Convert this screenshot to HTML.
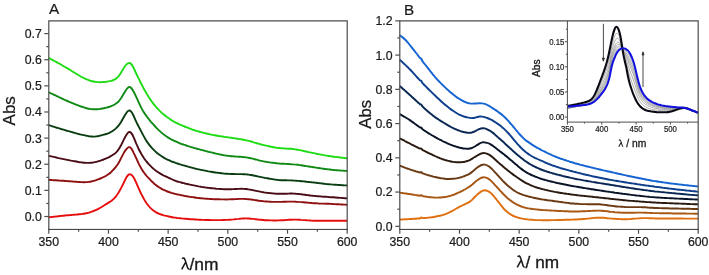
<!DOCTYPE html>
<html><head><meta charset="utf-8"><title>Absorption spectra</title>
<style>
html,body{margin:0;padding:0;background:#fff;}
body{width:709px;height:275px;position:relative;overflow:hidden;font-family:"Liberation Sans",sans-serif;}
</style></head><body>
<svg width="709" height="275" viewBox="0 0 709 275" style="position:absolute;left:0;top:0;will-change:transform">
<rect width="709" height="275" fill="#fff"/>
<g fill="none" stroke-width="1.9" stroke-linejoin="round" stroke-linecap="butt">
<path d="M48.70 58.00C49.1 58.2 50.4 58.8 51.2 59.3C52.0 59.7 52.9 60.1 53.7 60.6C54.5 61.0 55.4 61.5 56.2 61.9C57.0 62.4 57.9 62.9 58.7 63.3C59.5 63.8 60.4 64.3 61.2 64.7C62.0 65.2 62.9 65.7 63.7 66.2C64.5 66.7 65.4 67.2 66.2 67.6C67.0 68.1 67.9 68.6 68.7 69.1C69.5 69.7 70.4 70.2 71.2 70.7C72.0 71.2 72.9 71.7 73.7 72.2C74.5 72.7 75.4 73.3 76.2 73.8C77.0 74.3 77.9 74.8 78.7 75.3C79.5 75.8 80.4 76.2 81.2 76.7C82.0 77.2 82.9 77.6 83.7 78.0C84.5 78.4 85.4 78.8 86.2 79.2C87.0 79.5 87.9 79.9 88.7 80.2C89.5 80.5 90.4 80.7 91.2 81.0C92.0 81.2 92.9 81.4 93.7 81.5C94.5 81.7 95.4 81.8 96.2 81.9C97.0 82.0 97.9 82.1 98.7 82.1C99.5 82.2 100.4 82.2 101.2 82.1C102.0 82.1 102.9 82.1 103.7 82.0C104.5 81.9 105.4 81.9 106.2 81.8C107.0 81.6 107.9 81.5 108.7 81.4C109.5 81.2 110.4 81.0 111.2 80.8C112.0 80.6 112.9 80.3 113.7 80.0C114.5 79.6 115.4 79.2 116.2 78.5C117.0 77.9 117.9 77.1 118.7 76.1C119.5 75.1 120.4 73.6 121.2 72.3C122.0 71.0 122.9 69.4 123.7 68.2C124.5 66.9 125.4 65.5 126.2 64.7C127.0 63.8 127.9 63.2 128.7 63.1C129.5 63.0 130.4 63.2 131.2 64.0C132.0 64.9 132.9 66.4 133.7 68.0C134.5 69.6 135.4 71.7 136.2 73.5C137.0 75.3 137.9 77.0 138.7 78.7C139.5 80.4 140.4 82.0 141.2 83.7C142.0 85.3 142.9 87.0 143.7 88.5C144.5 90.1 145.4 91.5 146.2 92.9C147.0 94.4 147.9 95.7 148.7 97.0C149.5 98.3 150.4 99.5 151.2 100.7C152.0 101.9 152.9 103.0 153.7 104.1C154.5 105.1 155.4 106.1 156.2 107.1C157.0 108.1 157.9 109.0 158.7 109.9C159.5 110.7 160.4 111.5 161.2 112.3C162.0 113.1 162.9 113.8 163.7 114.5C164.5 115.2 165.4 115.8 166.2 116.4C167.0 117.1 167.9 117.7 168.7 118.3C169.5 118.8 170.4 119.4 171.2 119.9C172.0 120.5 172.9 121.0 173.7 121.5C174.5 121.9 175.4 122.4 176.2 122.8C177.0 123.3 177.9 123.7 178.7 124.0C179.5 124.4 180.4 124.8 181.2 125.2C182.0 125.5 182.9 125.9 183.7 126.2C184.5 126.6 185.4 126.9 186.2 127.2C187.0 127.5 187.9 127.9 188.7 128.2C189.5 128.5 190.4 128.8 191.2 129.1C192.0 129.4 192.9 129.7 193.7 130.0C194.5 130.2 195.4 130.5 196.2 130.8C197.0 131.0 197.9 131.3 198.7 131.5C199.5 131.8 200.4 132.0 201.2 132.2C202.0 132.5 202.9 132.7 203.7 132.9C204.5 133.1 205.4 133.3 206.2 133.5C207.0 133.7 207.9 133.9 208.7 134.0C209.5 134.2 210.4 134.4 211.2 134.6C212.0 134.7 212.9 134.9 213.7 135.1C214.5 135.2 215.4 135.4 216.2 135.5C217.0 135.7 217.9 135.8 218.7 136.0C219.5 136.1 220.4 136.2 221.2 136.4C222.0 136.5 222.9 136.6 223.7 136.7C224.5 136.9 225.4 137.0 226.2 137.1C227.0 137.2 227.9 137.3 228.7 137.4C229.5 137.6 230.4 137.7 231.2 137.8C232.0 137.9 232.9 138.0 233.7 138.1C234.5 138.3 235.4 138.4 236.2 138.5C237.0 138.6 237.9 138.8 238.7 138.9C239.5 139.0 240.4 139.2 241.2 139.3C242.0 139.5 242.9 139.6 243.7 139.8C244.5 139.9 245.4 140.1 246.2 140.3C247.0 140.5 247.9 140.7 248.7 140.9C249.5 141.1 250.4 141.3 251.2 141.5C252.0 141.8 252.9 142.0 253.7 142.3C254.5 142.5 255.4 142.8 256.2 143.0C257.0 143.3 257.9 143.5 258.7 143.8C259.5 144.0 260.4 144.2 261.2 144.5C262.0 144.7 262.9 144.9 263.7 145.1C264.5 145.3 265.4 145.5 266.2 145.7C267.0 145.9 267.9 146.1 268.7 146.2C269.5 146.4 270.4 146.6 271.2 146.8C272.0 146.9 272.9 147.1 273.7 147.2C274.5 147.4 275.4 147.5 276.2 147.7C277.0 147.8 277.9 147.9 278.7 148.0C279.5 148.1 280.4 148.2 281.2 148.3C282.0 148.4 282.9 148.4 283.7 148.4C284.5 148.5 285.4 148.5 286.2 148.6C287.0 148.6 287.9 148.6 288.7 148.7C289.5 148.7 290.4 148.8 291.2 148.8C292.0 148.9 292.9 149.0 293.7 149.1C294.5 149.2 295.4 149.3 296.2 149.5C297.0 149.6 297.9 149.7 298.7 149.9C299.5 150.1 300.4 150.2 301.2 150.4C302.0 150.6 302.9 150.8 303.7 151.0C304.5 151.1 305.4 151.3 306.2 151.5C307.0 151.7 307.9 151.9 308.7 152.1C309.5 152.3 310.4 152.4 311.2 152.6C312.0 152.8 312.9 153.0 313.7 153.1C314.5 153.3 315.4 153.5 316.2 153.7C317.0 153.8 317.9 154.0 318.7 154.2C319.5 154.3 320.4 154.5 321.2 154.6C322.0 154.8 322.9 155.0 323.7 155.1C324.5 155.3 325.4 155.4 326.2 155.6C327.0 155.7 327.9 155.8 328.7 156.0C329.5 156.1 330.4 156.2 331.2 156.4C332.0 156.5 332.9 156.6 333.7 156.7C334.5 156.8 335.4 156.9 336.2 157.0C337.0 157.1 337.9 157.2 338.7 157.3C339.5 157.4 340.4 157.5 341.2 157.6C342.0 157.7 342.9 157.8 343.7 157.9C344.5 158.0 345.6 158.1 346.2 158.2C346.8 158.2 347.1 158.3 347.3 158.3" stroke="#1edc14"/>
<path d="M48.70 92.30C49.1 92.5 50.4 93.1 51.2 93.5C52.0 93.9 52.9 94.2 53.7 94.6C54.5 95.0 55.4 95.4 56.2 95.8C57.0 96.2 57.9 96.6 58.7 97.0C59.5 97.4 60.4 97.8 61.2 98.2C62.0 98.6 62.9 99.0 63.7 99.4C64.5 99.7 65.4 100.1 66.2 100.5C67.0 100.8 67.9 101.2 68.7 101.6C69.5 101.9 70.4 102.3 71.2 102.6C72.0 103.0 72.9 103.3 73.7 103.7C74.5 104.0 75.4 104.3 76.2 104.7C77.0 105.0 77.9 105.3 78.7 105.6C79.5 105.9 80.4 106.3 81.2 106.5C82.0 106.8 82.9 107.1 83.7 107.4C84.5 107.7 85.4 107.9 86.2 108.1C87.0 108.4 87.9 108.6 88.7 108.7C89.5 108.9 90.4 109.0 91.2 109.1C92.0 109.2 92.9 109.3 93.7 109.3C94.5 109.3 95.4 109.3 96.2 109.3C97.0 109.2 97.9 109.2 98.7 109.1C99.5 109.0 100.4 108.9 101.2 108.7C102.0 108.6 102.9 108.4 103.7 108.3C104.5 108.1 105.4 107.9 106.2 107.7C107.0 107.5 107.9 107.3 108.7 107.0C109.5 106.8 110.4 106.5 111.2 106.1C112.0 105.8 112.9 105.5 113.7 105.0C114.5 104.6 115.4 104.1 116.2 103.4C117.0 102.8 117.9 102.2 118.7 101.3C119.5 100.4 120.4 99.2 121.2 98.0C122.0 96.7 122.9 95.2 123.7 93.8C124.5 92.4 125.4 90.8 126.2 89.7C127.0 88.6 127.9 87.5 128.7 87.2C129.5 86.9 130.4 87.2 131.2 88.0C132.0 88.8 132.9 90.3 133.7 91.7C134.5 93.2 135.4 95.0 136.2 96.8C137.0 98.5 137.9 100.4 138.7 102.3C139.5 104.1 140.4 106.1 141.2 107.7C142.0 109.3 142.9 110.8 143.7 112.1C144.5 113.4 145.4 114.6 146.2 115.7C147.0 116.9 147.9 118.0 148.7 119.0C149.5 120.1 150.4 121.1 151.2 122.1C152.0 123.1 152.9 124.0 153.7 124.9C154.5 125.8 155.4 126.7 156.2 127.6C157.0 128.4 157.9 129.3 158.7 130.1C159.5 130.8 160.4 131.6 161.2 132.4C162.0 133.1 162.9 133.8 163.7 134.4C164.5 135.1 165.4 135.7 166.2 136.3C167.0 136.8 167.9 137.4 168.7 137.9C169.5 138.4 170.4 138.8 171.2 139.3C172.0 139.7 172.9 140.2 173.7 140.6C174.5 141.0 175.4 141.4 176.2 141.7C177.0 142.1 177.9 142.5 178.7 142.8C179.5 143.1 180.4 143.5 181.2 143.8C182.0 144.1 182.9 144.4 183.7 144.7C184.5 144.9 185.4 145.2 186.2 145.5C187.0 145.8 187.9 146.0 188.7 146.3C189.5 146.5 190.4 146.8 191.2 147.1C192.0 147.3 192.9 147.6 193.7 147.8C194.5 148.1 195.4 148.3 196.2 148.5C197.0 148.8 197.9 149.0 198.7 149.2C199.5 149.5 200.4 149.7 201.2 149.9C202.0 150.1 202.9 150.3 203.7 150.5C204.5 150.7 205.4 150.9 206.2 151.2C207.0 151.4 207.9 151.6 208.7 151.8C209.5 152.0 210.4 152.2 211.2 152.4C212.0 152.6 212.9 152.8 213.7 153.0C214.5 153.2 215.4 153.4 216.2 153.6C217.0 153.8 217.9 154.0 218.7 154.2C219.5 154.4 220.4 154.5 221.2 154.7C222.0 154.9 222.9 155.0 223.7 155.2C224.5 155.3 225.4 155.5 226.2 155.6C227.0 155.7 227.9 155.8 228.7 155.9C229.5 156.0 230.4 156.1 231.2 156.2C232.0 156.3 232.9 156.3 233.7 156.4C234.5 156.5 235.4 156.5 236.2 156.6C237.0 156.6 237.9 156.7 238.7 156.7C239.5 156.8 240.4 156.8 241.2 156.9C242.0 157.0 242.9 157.0 243.7 157.1C244.5 157.2 245.4 157.3 246.2 157.4C247.0 157.5 247.9 157.7 248.7 157.8C249.5 158.0 250.4 158.1 251.2 158.3C252.0 158.5 252.9 158.7 253.7 158.9C254.5 159.1 255.4 159.4 256.2 159.6C257.0 159.8 257.9 160.0 258.7 160.3C259.5 160.5 260.4 160.7 261.2 160.9C262.0 161.1 262.9 161.2 263.7 161.4C264.5 161.6 265.4 161.7 266.2 161.8C267.0 162.0 267.9 162.1 268.7 162.2C269.5 162.4 270.4 162.5 271.2 162.6C272.0 162.7 272.9 162.8 273.7 162.9C274.5 163.0 275.4 163.1 276.2 163.2C277.0 163.3 277.9 163.4 278.7 163.5C279.5 163.6 280.4 163.6 281.2 163.7C282.0 163.7 282.9 163.8 283.7 163.8C284.5 163.9 285.4 163.9 286.2 163.9C287.0 163.9 287.9 164.0 288.7 164.0C289.5 164.1 290.4 164.1 291.2 164.2C292.0 164.2 292.9 164.3 293.7 164.4C294.5 164.4 295.4 164.5 296.2 164.6C297.0 164.7 297.9 164.8 298.7 164.9C299.5 165.1 300.4 165.2 301.2 165.3C302.0 165.4 302.9 165.6 303.7 165.7C304.5 165.8 305.4 165.9 306.2 166.1C307.0 166.2 307.9 166.3 308.7 166.5C309.5 166.6 310.4 166.7 311.2 166.9C312.0 167.0 312.9 167.1 313.7 167.2C314.5 167.4 315.4 167.5 316.2 167.6C317.0 167.8 317.9 167.9 318.7 168.0C319.5 168.1 320.4 168.3 321.2 168.4C322.0 168.5 322.9 168.7 323.7 168.8C324.5 168.9 325.4 169.0 326.2 169.1C327.0 169.2 327.9 169.3 328.7 169.4C329.5 169.5 330.4 169.6 331.2 169.7C332.0 169.8 332.9 169.9 333.7 170.0C334.5 170.1 335.4 170.1 336.2 170.2C337.0 170.3 337.9 170.3 338.7 170.4C339.5 170.5 340.4 170.5 341.2 170.6C342.0 170.6 342.9 170.7 343.7 170.7C344.5 170.8 345.6 170.9 346.2 170.9C346.8 170.9 347.1 171.0 347.3 171.0" stroke="#0f8a14"/>
<path d="M48.70 125.20C49.1 125.3 50.4 125.7 51.2 125.9C52.0 126.2 52.9 126.4 53.7 126.7C54.5 127.0 55.4 127.2 56.2 127.5C57.0 127.7 57.9 128.0 58.7 128.2C59.5 128.5 60.4 128.7 61.2 129.0C62.0 129.2 62.9 129.5 63.7 129.7C64.5 130.0 65.4 130.2 66.2 130.5C67.0 130.7 67.9 131.0 68.7 131.2C69.5 131.5 70.4 131.7 71.2 131.9C72.0 132.2 72.9 132.4 73.7 132.6C74.5 132.9 75.4 133.1 76.2 133.3C77.0 133.5 77.9 133.8 78.7 134.0C79.5 134.2 80.4 134.4 81.2 134.6C82.0 134.8 82.9 135.0 83.7 135.2C84.5 135.4 85.4 135.6 86.2 135.7C87.0 135.9 87.9 136.1 88.7 136.2C89.5 136.3 90.4 136.4 91.2 136.5C92.0 136.6 92.9 136.6 93.7 136.6C94.5 136.6 95.4 136.5 96.2 136.4C97.0 136.3 97.9 136.1 98.7 136.0C99.5 135.8 100.4 135.6 101.2 135.4C102.0 135.2 102.9 135.0 103.7 134.7C104.5 134.5 105.4 134.3 106.2 134.0C107.0 133.7 107.9 133.4 108.7 133.1C109.5 132.7 110.4 132.3 111.2 131.8C112.0 131.4 112.9 130.9 113.7 130.3C114.5 129.7 115.4 129.0 116.2 128.2C117.0 127.4 117.9 126.5 118.7 125.4C119.5 124.4 120.4 123.2 121.2 121.8C122.0 120.5 122.9 118.8 123.7 117.3C124.5 115.9 125.4 114.3 126.2 113.2C127.0 112.1 127.9 110.8 128.7 110.6C129.5 110.3 130.4 110.7 131.2 111.6C132.0 112.5 132.9 114.3 133.7 116.0C134.5 117.7 135.4 119.9 136.2 121.6C137.0 123.4 137.9 125.0 138.7 126.6C139.5 128.2 140.4 129.7 141.2 131.3C142.0 132.9 142.9 134.6 143.7 136.1C144.5 137.7 145.4 139.1 146.2 140.5C147.0 141.8 147.9 143.0 148.7 144.1C149.5 145.2 150.4 146.3 151.2 147.2C152.0 148.2 152.9 149.1 153.7 149.9C154.5 150.7 155.4 151.5 156.2 152.2C157.0 152.9 157.9 153.6 158.7 154.2C159.5 154.9 160.4 155.4 161.2 156.0C162.0 156.6 162.9 157.1 163.7 157.6C164.5 158.1 165.4 158.6 166.2 159.0C167.0 159.5 167.9 159.9 168.7 160.2C169.5 160.6 170.4 161.0 171.2 161.3C172.0 161.6 172.9 161.9 173.7 162.2C174.5 162.5 175.4 162.8 176.2 163.1C177.0 163.4 177.9 163.6 178.7 163.9C179.5 164.2 180.4 164.4 181.2 164.7C182.0 164.9 182.9 165.2 183.7 165.4C184.5 165.7 185.4 165.9 186.2 166.1C187.0 166.4 187.9 166.6 188.7 166.8C189.5 167.1 190.4 167.3 191.2 167.5C192.0 167.7 192.9 167.9 193.7 168.2C194.5 168.4 195.4 168.6 196.2 168.8C197.0 169.0 197.9 169.2 198.7 169.4C199.5 169.6 200.4 169.7 201.2 169.9C202.0 170.1 202.9 170.3 203.7 170.4C204.5 170.6 205.4 170.8 206.2 170.9C207.0 171.1 207.9 171.2 208.7 171.4C209.5 171.5 210.4 171.7 211.2 171.8C212.0 171.9 212.9 172.1 213.7 172.2C214.5 172.3 215.4 172.4 216.2 172.6C217.0 172.7 217.9 172.8 218.7 172.9C219.5 173.0 220.4 173.1 221.2 173.2C222.0 173.3 222.9 173.4 223.7 173.5C224.5 173.5 225.4 173.6 226.2 173.7C227.0 173.8 227.9 173.8 228.7 173.9C229.5 173.9 230.4 173.9 231.2 174.0C232.0 174.0 232.9 174.0 233.7 174.0C234.5 174.1 235.4 174.1 236.2 174.1C237.0 174.1 237.9 174.1 238.7 174.1C239.5 174.1 240.4 174.1 241.2 174.1C242.0 174.2 242.9 174.2 243.7 174.2C244.5 174.3 245.4 174.3 246.2 174.4C247.0 174.5 247.9 174.5 248.7 174.6C249.5 174.8 250.4 174.9 251.2 175.0C252.0 175.2 252.9 175.3 253.7 175.5C254.5 175.7 255.4 175.8 256.2 176.0C257.0 176.2 257.9 176.4 258.7 176.6C259.5 176.8 260.4 177.0 261.2 177.1C262.0 177.3 262.9 177.5 263.7 177.6C264.5 177.8 265.4 177.9 266.2 178.1C267.0 178.2 267.9 178.4 268.7 178.5C269.5 178.7 270.4 178.8 271.2 178.9C272.0 179.1 272.9 179.2 273.7 179.3C274.5 179.5 275.4 179.6 276.2 179.7C277.0 179.8 277.9 179.9 278.7 180.0C279.5 180.0 280.4 180.1 281.2 180.2C282.0 180.2 282.9 180.2 283.7 180.3C284.5 180.3 285.4 180.3 286.2 180.3C287.0 180.3 287.9 180.4 288.7 180.4C289.5 180.4 290.4 180.4 291.2 180.4C292.0 180.5 292.9 180.5 293.7 180.6C294.5 180.6 295.4 180.7 296.2 180.7C297.0 180.8 297.9 180.9 298.7 180.9C299.5 181.0 300.4 181.1 301.2 181.2C302.0 181.3 302.9 181.3 303.7 181.4C304.5 181.5 305.4 181.6 306.2 181.7C307.0 181.8 307.9 181.9 308.7 182.0C309.5 182.1 310.4 182.2 311.2 182.3C312.0 182.4 312.9 182.4 313.7 182.5C314.5 182.6 315.4 182.7 316.2 182.8C317.0 182.9 317.9 183.0 318.7 183.1C319.5 183.2 320.4 183.3 321.2 183.4C322.0 183.5 322.9 183.6 323.7 183.7C324.5 183.8 325.4 183.9 326.2 184.0C327.0 184.0 327.9 184.1 328.7 184.2C329.5 184.3 330.4 184.4 331.2 184.4C332.0 184.5 332.9 184.6 333.7 184.6C334.5 184.7 335.4 184.8 336.2 184.8C337.0 184.9 337.9 184.9 338.7 185.0C339.5 185.0 340.4 185.1 341.2 185.1C342.0 185.2 342.9 185.2 343.7 185.3C344.5 185.3 345.6 185.4 346.2 185.4C346.8 185.5 347.1 185.5 347.3 185.5" stroke="#0a3d12"/>
<path d="M48.70 155.80C49.1 155.9 50.4 156.2 51.2 156.4C52.0 156.6 52.9 156.8 53.7 156.9C54.5 157.1 55.4 157.3 56.2 157.5C57.0 157.7 57.9 157.9 58.7 158.1C59.5 158.2 60.4 158.4 61.2 158.6C62.0 158.8 62.9 158.9 63.7 159.1C64.5 159.3 65.4 159.4 66.2 159.6C67.0 159.8 67.9 159.9 68.7 160.1C69.5 160.3 70.4 160.4 71.2 160.6C72.0 160.7 72.9 160.9 73.7 161.1C74.5 161.2 75.4 161.4 76.2 161.5C77.0 161.7 77.9 161.8 78.7 162.0C79.5 162.1 80.4 162.3 81.2 162.4C82.0 162.5 82.9 162.6 83.7 162.7C84.5 162.8 85.4 162.8 86.2 162.9C87.0 162.9 87.9 162.9 88.7 162.9C89.5 162.9 90.4 162.9 91.2 162.8C92.0 162.7 92.9 162.6 93.7 162.4C94.5 162.3 95.4 162.1 96.2 161.9C97.0 161.7 97.9 161.5 98.7 161.2C99.5 161.0 100.4 160.7 101.2 160.4C102.0 160.1 102.9 159.8 103.7 159.5C104.5 159.1 105.4 158.8 106.2 158.4C107.0 158.1 107.9 157.7 108.7 157.3C109.5 156.8 110.4 156.4 111.2 155.9C112.0 155.4 112.9 154.9 113.7 154.3C114.5 153.7 115.4 153.1 116.2 152.3C117.0 151.4 117.9 150.5 118.7 149.2C119.5 148.0 120.4 146.5 121.2 145.0C122.0 143.4 122.9 141.6 123.7 139.9C124.5 138.3 125.4 136.6 126.2 135.3C127.0 134.0 127.9 132.6 128.7 132.2C129.5 131.8 130.4 132.1 131.2 133.0C132.0 133.8 132.9 135.5 133.7 137.3C134.5 139.0 135.4 141.5 136.2 143.5C137.0 145.4 137.9 147.3 138.7 149.0C139.5 150.7 140.4 152.2 141.2 153.7C142.0 155.1 142.9 156.4 143.7 157.7C144.5 158.9 145.4 160.1 146.2 161.2C147.0 162.2 147.9 163.2 148.7 164.1C149.5 165.0 150.4 165.9 151.2 166.7C152.0 167.5 152.9 168.2 153.7 168.9C154.5 169.6 155.4 170.2 156.2 170.9C157.0 171.5 157.9 172.0 158.7 172.6C159.5 173.1 160.4 173.6 161.2 174.1C162.0 174.6 162.9 175.0 163.7 175.5C164.5 175.9 165.4 176.3 166.2 176.7C167.0 177.1 167.9 177.5 168.7 177.8C169.5 178.2 170.4 178.6 171.2 179.0C172.0 179.4 172.9 179.8 173.7 180.1C174.5 180.4 175.4 180.8 176.2 181.1C177.0 181.4 177.9 181.6 178.7 181.9C179.5 182.1 180.4 182.3 181.2 182.5C182.0 182.8 182.9 183.0 183.7 183.2C184.5 183.4 185.4 183.6 186.2 183.8C187.0 184.0 187.9 184.1 188.7 184.3C189.5 184.5 190.4 184.7 191.2 184.9C192.0 185.1 192.9 185.3 193.7 185.4C194.5 185.6 195.4 185.8 196.2 185.9C197.0 186.1 197.9 186.2 198.7 186.4C199.5 186.5 200.4 186.7 201.2 186.8C202.0 187.0 202.9 187.1 203.7 187.2C204.5 187.3 205.4 187.5 206.2 187.6C207.0 187.7 207.9 187.8 208.7 187.9C209.5 188.0 210.4 188.1 211.2 188.2C212.0 188.3 212.9 188.3 213.7 188.4C214.5 188.5 215.4 188.6 216.2 188.7C217.0 188.7 217.9 188.8 218.7 188.9C219.5 188.9 220.4 189.0 221.2 189.0C222.0 189.1 222.9 189.1 223.7 189.2C224.5 189.2 225.4 189.2 226.2 189.2C227.0 189.3 227.9 189.3 228.7 189.3C229.5 189.3 230.4 189.2 231.2 189.2C232.0 189.2 232.9 189.1 233.7 189.1C234.5 189.1 235.4 189.0 236.2 189.0C237.0 188.9 237.9 188.9 238.7 188.9C239.5 188.8 240.4 188.8 241.2 188.8C242.0 188.8 242.9 188.8 243.7 188.9C244.5 188.9 245.4 189.0 246.2 189.0C247.0 189.1 247.9 189.2 248.7 189.4C249.5 189.5 250.4 189.7 251.2 189.8C252.0 190.0 252.9 190.2 253.7 190.3C254.5 190.5 255.4 190.7 256.2 190.9C257.0 191.1 257.9 191.3 258.7 191.4C259.5 191.6 260.4 191.8 261.2 191.9C262.0 192.1 262.9 192.2 263.7 192.3C264.5 192.5 265.4 192.6 266.2 192.7C267.0 192.8 267.9 192.9 268.7 193.0C269.5 193.1 270.4 193.2 271.2 193.3C272.0 193.4 272.9 193.4 273.7 193.5C274.5 193.6 275.4 193.6 276.2 193.7C277.0 193.7 277.9 193.8 278.7 193.8C279.5 193.8 280.4 193.8 281.2 193.8C282.0 193.8 282.9 193.8 283.7 193.8C284.5 193.8 285.4 193.7 286.2 193.7C287.0 193.6 287.9 193.6 288.7 193.6C289.5 193.6 290.4 193.5 291.2 193.5C292.0 193.5 292.9 193.6 293.7 193.6C294.5 193.6 295.4 193.7 296.2 193.8C297.0 193.8 297.9 193.9 298.7 194.0C299.5 194.1 300.4 194.2 301.2 194.3C302.0 194.4 302.9 194.5 303.7 194.6C304.5 194.7 305.4 194.9 306.2 195.0C307.0 195.1 307.9 195.2 308.7 195.3C309.5 195.4 310.4 195.5 311.2 195.6C312.0 195.7 312.9 195.8 313.7 195.9C314.5 196.0 315.4 196.0 316.2 196.1C317.0 196.2 317.9 196.3 318.7 196.3C319.5 196.4 320.4 196.4 321.2 196.5C322.0 196.6 322.9 196.6 323.7 196.7C324.5 196.7 325.4 196.8 326.2 196.8C327.0 196.9 327.9 196.9 328.7 197.0C329.5 197.0 330.4 197.1 331.2 197.2C332.0 197.2 332.9 197.3 333.7 197.3C334.5 197.4 335.4 197.5 336.2 197.5C337.0 197.6 337.9 197.7 338.7 197.7C339.5 197.8 340.4 197.9 341.2 197.9C342.0 198.0 342.9 198.0 343.7 198.1C344.5 198.2 345.6 198.2 346.2 198.3C346.8 198.3 347.1 198.4 347.3 198.4" stroke="#4a0d16"/>
<path d="M48.70 179.80C49.1 179.8 50.4 179.9 51.2 180.0C52.0 180.1 52.9 180.1 53.7 180.2C54.5 180.2 55.4 180.3 56.2 180.3C57.0 180.4 57.9 180.5 58.7 180.5C59.5 180.6 60.4 180.6 61.2 180.7C62.0 180.7 62.9 180.8 63.7 180.8C64.5 180.9 65.4 181.0 66.2 181.0C67.0 181.1 67.9 181.1 68.7 181.2C69.5 181.3 70.4 181.3 71.2 181.4C72.0 181.5 72.9 181.5 73.7 181.6C74.5 181.7 75.4 181.8 76.2 181.8C77.0 181.9 77.9 181.9 78.7 182.0C79.5 182.1 80.4 182.1 81.2 182.1C82.0 182.2 82.9 182.2 83.7 182.2C84.5 182.2 85.4 182.2 86.2 182.1C87.0 182.1 87.9 182.0 88.7 181.9C89.5 181.8 90.4 181.7 91.2 181.5C92.0 181.3 92.9 181.1 93.7 180.9C94.5 180.7 95.4 180.4 96.2 180.1C97.0 179.8 97.9 179.5 98.7 179.2C99.5 178.9 100.4 178.6 101.2 178.2C102.0 177.8 102.9 177.4 103.7 177.0C104.5 176.6 105.4 176.2 106.2 175.7C107.0 175.2 107.9 174.7 108.7 174.1C109.5 173.5 110.4 172.7 111.2 172.0C112.0 171.2 112.9 170.3 113.7 169.4C114.5 168.5 115.4 167.5 116.2 166.4C117.0 165.3 117.9 164.3 118.7 162.8C119.5 161.4 120.4 159.6 121.2 157.9C122.0 156.3 122.9 154.5 123.7 153.1C124.5 151.7 125.4 150.4 126.2 149.4C127.0 148.5 127.9 147.4 128.7 147.2C129.5 147.0 130.4 147.4 131.2 148.3C132.0 149.3 132.9 151.1 133.7 152.8C134.5 154.4 135.4 156.4 136.2 158.2C137.0 160.0 137.9 162.0 138.7 163.7C139.5 165.3 140.4 166.8 141.2 168.3C142.0 169.7 142.9 171.0 143.7 172.2C144.5 173.4 145.4 174.5 146.2 175.5C147.0 176.5 147.9 177.3 148.7 178.2C149.5 179.1 150.4 180.0 151.2 180.8C152.0 181.7 152.9 182.4 153.7 183.2C154.5 183.9 155.4 184.6 156.2 185.2C157.0 185.9 157.9 186.5 158.7 187.0C159.5 187.6 160.4 188.1 161.2 188.6C162.0 189.1 162.9 189.5 163.7 189.9C164.5 190.3 165.4 190.6 166.2 191.0C167.0 191.3 167.9 191.7 168.7 192.0C169.5 192.2 170.4 192.5 171.2 192.8C172.0 193.0 172.9 193.3 173.7 193.5C174.5 193.7 175.4 193.9 176.2 194.1C177.0 194.4 177.9 194.5 178.7 194.7C179.5 194.9 180.4 195.1 181.2 195.2C182.0 195.4 182.9 195.6 183.7 195.7C184.5 195.9 185.4 196.0 186.2 196.2C187.0 196.3 187.9 196.4 188.7 196.6C189.5 196.7 190.4 196.8 191.2 197.0C192.0 197.1 192.9 197.2 193.7 197.3C194.5 197.4 195.4 197.6 196.2 197.7C197.0 197.8 197.9 197.9 198.7 198.0C199.5 198.1 200.4 198.2 201.2 198.2C202.0 198.3 202.9 198.4 203.7 198.5C204.5 198.6 205.4 198.6 206.2 198.7C207.0 198.8 207.9 198.8 208.7 198.9C209.5 198.9 210.4 199.0 211.2 199.0C212.0 199.1 212.9 199.1 213.7 199.2C214.5 199.2 215.4 199.2 216.2 199.3C217.0 199.3 217.9 199.3 218.7 199.3C219.5 199.4 220.4 199.4 221.2 199.4C222.0 199.4 222.9 199.4 223.7 199.4C224.5 199.5 225.4 199.5 226.2 199.5C227.0 199.4 227.9 199.4 228.7 199.4C229.5 199.4 230.4 199.4 231.2 199.3C232.0 199.3 232.9 199.2 233.7 199.2C234.5 199.2 235.4 199.1 236.2 199.1C237.0 199.0 237.9 199.0 238.7 198.9C239.5 198.9 240.4 198.9 241.2 198.9C242.0 198.9 242.9 198.9 243.7 198.9C244.5 198.9 245.4 198.9 246.2 199.0C247.0 199.0 247.9 199.1 248.7 199.2C249.5 199.3 250.4 199.4 251.2 199.5C252.0 199.6 252.9 199.8 253.7 199.9C254.5 200.0 255.4 200.2 256.2 200.3C257.0 200.4 257.9 200.6 258.7 200.7C259.5 200.8 260.4 200.9 261.2 201.0C262.0 201.1 262.9 201.2 263.7 201.3C264.5 201.3 265.4 201.4 266.2 201.5C267.0 201.5 267.9 201.6 268.7 201.6C269.5 201.7 270.4 201.7 271.2 201.8C272.0 201.8 272.9 201.8 273.7 201.9C274.5 201.9 275.4 201.9 276.2 201.9C277.0 201.9 277.9 201.9 278.7 201.9C279.5 201.9 280.4 201.9 281.2 201.9C282.0 201.9 282.9 201.9 283.7 201.8C284.5 201.8 285.4 201.8 286.2 201.7C287.0 201.7 287.9 201.6 288.7 201.6C289.5 201.6 290.4 201.6 291.2 201.6C292.0 201.6 292.9 201.6 293.7 201.6C294.5 201.6 295.4 201.6 296.2 201.7C297.0 201.7 297.9 201.8 298.7 201.9C299.5 201.9 300.4 202.0 301.2 202.1C302.0 202.1 302.9 202.2 303.7 202.3C304.5 202.4 305.4 202.5 306.2 202.5C307.0 202.6 307.9 202.7 308.7 202.8C309.5 202.9 310.4 202.9 311.2 203.0C312.0 203.1 312.9 203.1 313.7 203.2C314.5 203.2 315.4 203.3 316.2 203.3C317.0 203.4 317.9 203.4 318.7 203.5C319.5 203.5 320.4 203.5 321.2 203.6C322.0 203.6 322.9 203.6 323.7 203.6C324.5 203.7 325.4 203.7 326.2 203.7C327.0 203.8 327.9 203.8 328.7 203.8C329.5 203.9 330.4 203.9 331.2 203.9C332.0 204.0 332.9 204.0 333.7 204.1C334.5 204.1 335.4 204.2 336.2 204.2C337.0 204.2 337.9 204.3 338.7 204.3C339.5 204.4 340.4 204.4 341.2 204.5C342.0 204.5 342.9 204.6 343.7 204.6C344.5 204.6 345.6 204.7 346.2 204.7C346.8 204.8 347.1 204.8 347.3 204.8" stroke="#8f1010"/>
<path d="M48.70 217.30C49.1 217.3 50.4 217.1 51.2 217.0C52.0 216.9 52.9 216.8 53.7 216.7C54.5 216.6 55.4 216.6 56.2 216.5C57.0 216.4 57.9 216.3 58.7 216.2C59.5 216.1 60.4 216.0 61.2 215.9C62.0 215.8 62.9 215.8 63.7 215.7C64.5 215.6 65.4 215.5 66.2 215.4C67.0 215.3 67.9 215.3 68.7 215.2C69.5 215.1 70.4 215.1 71.2 215.0C72.0 214.9 72.9 214.9 73.7 214.8C74.5 214.7 75.4 214.6 76.2 214.6C77.0 214.5 77.9 214.4 78.7 214.3C79.5 214.3 80.4 214.2 81.2 214.1C82.0 214.0 82.9 213.8 83.7 213.7C84.5 213.6 85.4 213.4 86.2 213.3C87.0 213.1 87.9 212.9 88.7 212.7C89.5 212.4 90.4 212.2 91.2 211.9C92.0 211.6 92.9 211.3 93.7 211.0C94.5 210.7 95.4 210.3 96.2 209.9C97.0 209.5 97.9 209.1 98.7 208.6C99.5 208.2 100.4 207.7 101.2 207.2C102.0 206.7 102.9 206.2 103.7 205.7C104.5 205.2 105.4 204.7 106.2 204.1C107.0 203.6 107.9 203.1 108.7 202.6C109.5 202.1 110.4 201.6 111.2 201.0C112.0 200.3 112.9 199.7 113.7 198.9C114.5 198.1 115.4 197.2 116.2 196.1C117.0 195.0 117.9 193.8 118.7 192.4C119.5 191.0 120.4 189.5 121.2 187.9C122.0 186.3 122.9 184.5 123.7 182.8C124.5 181.1 125.4 179.0 126.2 177.7C127.0 176.3 127.9 175.1 128.7 174.6C129.5 174.1 130.4 174.3 131.2 174.7C132.0 175.2 132.9 176.1 133.7 177.4C134.5 178.7 135.4 180.8 136.2 182.7C137.0 184.5 137.9 186.5 138.7 188.4C139.5 190.2 140.4 192.1 141.2 193.8C142.0 195.5 142.9 197.1 143.7 198.6C144.5 200.1 145.4 201.4 146.2 202.7C147.0 203.9 147.9 205.0 148.7 206.0C149.5 207.0 150.4 207.9 151.2 208.7C152.0 209.5 152.9 210.2 153.7 210.8C154.5 211.4 155.4 211.9 156.2 212.4C157.0 212.9 157.9 213.3 158.7 213.6C159.5 214.0 160.4 214.3 161.2 214.5C162.0 214.8 162.9 215.0 163.7 215.3C164.5 215.5 165.4 215.7 166.2 215.9C167.0 216.1 167.9 216.3 168.7 216.5C169.5 216.7 170.4 216.9 171.2 217.0C172.0 217.2 172.9 217.3 173.7 217.5C174.5 217.6 175.4 217.7 176.2 217.8C177.0 218.0 177.9 218.1 178.7 218.1C179.5 218.2 180.4 218.3 181.2 218.4C182.0 218.5 182.9 218.6 183.7 218.6C184.5 218.7 185.4 218.8 186.2 218.8C187.0 218.9 187.9 219.0 188.7 219.0C189.5 219.1 190.4 219.2 191.2 219.2C192.0 219.3 192.9 219.3 193.7 219.4C194.5 219.4 195.4 219.5 196.2 219.5C197.0 219.6 197.9 219.6 198.7 219.7C199.5 219.7 200.4 219.7 201.2 219.8C202.0 219.8 202.9 219.8 203.7 219.9C204.5 219.9 205.4 219.9 206.2 220.0C207.0 220.0 207.9 220.0 208.7 220.0C209.5 220.0 210.4 220.1 211.2 220.1C212.0 220.1 212.9 220.1 213.7 220.1C214.5 220.1 215.4 220.1 216.2 220.1C217.0 220.1 217.9 220.1 218.7 220.1C219.5 220.1 220.4 220.1 221.2 220.1C222.0 220.1 222.9 220.0 223.7 220.0C224.5 220.0 225.4 220.0 226.2 219.9C227.0 219.9 227.9 219.8 228.7 219.8C229.5 219.7 230.4 219.7 231.2 219.6C232.0 219.5 232.9 219.4 233.7 219.4C234.5 219.3 235.4 219.2 236.2 219.1C237.0 219.0 237.9 218.9 238.7 218.9C239.5 218.8 240.4 218.7 241.2 218.6C242.0 218.6 242.9 218.5 243.7 218.5C244.5 218.4 245.4 218.4 246.2 218.4C247.0 218.4 247.9 218.5 248.7 218.5C249.5 218.5 250.4 218.6 251.2 218.7C252.0 218.7 252.9 218.8 253.7 218.9C254.5 219.0 255.4 219.1 256.2 219.3C257.0 219.4 257.9 219.5 258.7 219.6C259.5 219.7 260.4 219.8 261.2 219.8C262.0 219.9 262.9 220.0 263.7 220.0C264.5 220.1 265.4 220.2 266.2 220.2C267.0 220.2 267.9 220.3 268.7 220.3C269.5 220.3 270.4 220.4 271.2 220.4C272.0 220.4 272.9 220.4 273.7 220.5C274.5 220.5 275.4 220.5 276.2 220.5C277.0 220.5 277.9 220.5 278.7 220.4C279.5 220.4 280.4 220.4 281.2 220.3C282.0 220.3 282.9 220.2 283.7 220.2C284.5 220.1 285.4 220.1 286.2 220.0C287.0 219.9 287.9 219.9 288.7 219.8C289.5 219.7 290.4 219.7 291.2 219.7C292.0 219.6 292.9 219.6 293.7 219.6C294.5 219.6 295.4 219.6 296.2 219.6C297.0 219.7 297.9 219.7 298.7 219.7C299.5 219.8 300.4 219.8 301.2 219.9C302.0 219.9 302.9 220.0 303.7 220.1C304.5 220.1 305.4 220.2 306.2 220.2C307.0 220.3 307.9 220.4 308.7 220.4C309.5 220.5 310.4 220.5 311.2 220.6C312.0 220.6 312.9 220.6 313.7 220.7C314.5 220.7 315.4 220.7 316.2 220.7C317.0 220.7 317.9 220.8 318.7 220.8C319.5 220.8 320.4 220.8 321.2 220.8C322.0 220.8 322.9 220.8 323.7 220.8C324.5 220.7 325.4 220.7 326.2 220.7C327.0 220.7 327.9 220.7 328.7 220.7C329.5 220.7 330.4 220.7 331.2 220.7C332.0 220.7 332.9 220.7 333.7 220.7C334.5 220.7 335.4 220.7 336.2 220.7C337.0 220.7 337.9 220.7 338.7 220.7C339.5 220.7 340.4 220.7 341.2 220.7C342.0 220.7 342.9 220.7 343.7 220.7C344.5 220.7 345.6 220.7 346.2 220.7C346.8 220.7 347.1 220.7 347.3 220.7" stroke="#e60d0d"/>
</g>
<g stroke="#4d4d4d" stroke-width="1.2" fill="none">
<path d="M48.80 229.70 V20.80 H347.20 V229.70"/>
<line x1="48.20" y1="229.40" x2="347.80" y2="229.40" stroke="#333" stroke-width="1.0"/>
<line x1="48.80" y1="229.20" x2="48.80" y2="233.70"/>
<line x1="78.64" y1="229.20" x2="78.64" y2="231.70"/>
<line x1="108.48" y1="229.20" x2="108.48" y2="233.70"/>
<line x1="138.32" y1="229.20" x2="138.32" y2="231.70"/>
<line x1="168.16" y1="229.20" x2="168.16" y2="233.70"/>
<line x1="198.00" y1="229.20" x2="198.00" y2="231.70"/>
<line x1="227.84" y1="229.20" x2="227.84" y2="233.70"/>
<line x1="257.68" y1="229.20" x2="257.68" y2="231.70"/>
<line x1="287.52" y1="229.20" x2="287.52" y2="233.70"/>
<line x1="317.36" y1="229.20" x2="317.36" y2="231.70"/>
<line x1="347.20" y1="229.20" x2="347.20" y2="233.70"/>
<line x1="48.80" y1="216.50" x2="44.30" y2="216.50"/>
<line x1="48.80" y1="203.44" x2="46.30" y2="203.44"/>
<line x1="48.80" y1="190.37" x2="44.30" y2="190.37"/>
<line x1="48.80" y1="177.31" x2="46.30" y2="177.31"/>
<line x1="48.80" y1="164.24" x2="44.30" y2="164.24"/>
<line x1="48.80" y1="151.18" x2="46.30" y2="151.18"/>
<line x1="48.80" y1="138.11" x2="44.30" y2="138.11"/>
<line x1="48.80" y1="125.04" x2="46.30" y2="125.04"/>
<line x1="48.80" y1="111.98" x2="44.30" y2="111.98"/>
<line x1="48.80" y1="98.91" x2="46.30" y2="98.91"/>
<line x1="48.80" y1="85.85" x2="44.30" y2="85.85"/>
<line x1="48.80" y1="72.78" x2="46.30" y2="72.78"/>
<line x1="48.80" y1="59.72" x2="44.30" y2="59.72"/>
<line x1="48.80" y1="46.65" x2="46.30" y2="46.65"/>
<line x1="48.80" y1="33.59" x2="44.30" y2="33.59"/>
</g>
<g font-family="Liberation Sans, sans-serif" fill="#1a1a1a" stroke="#1a1a1a" stroke-width="0.22" style="filter:grayscale(1)">
<text x="48.80" y="246.2" font-size="12.3" text-anchor="middle">350</text>
<text x="108.48" y="246.2" font-size="12.3" text-anchor="middle">400</text>
<text x="168.16" y="246.2" font-size="12.3" text-anchor="middle">450</text>
<text x="227.84" y="246.2" font-size="12.3" text-anchor="middle">500</text>
<text x="287.52" y="246.2" font-size="12.3" text-anchor="middle">550</text>
<text x="347.20" y="246.2" font-size="12.3" text-anchor="middle">600</text>
<text x="41.9" y="220.90" font-size="12.3" text-anchor="end">0.0</text>
<text x="41.9" y="194.77" font-size="12.3" text-anchor="end">0.1</text>
<text x="41.9" y="168.64" font-size="12.3" text-anchor="end">0.2</text>
<text x="41.9" y="142.51" font-size="12.3" text-anchor="end">0.3</text>
<text x="41.9" y="116.38" font-size="12.3" text-anchor="end">0.4</text>
<text x="41.9" y="90.25" font-size="12.3" text-anchor="end">0.5</text>
<text x="41.9" y="64.12" font-size="12.3" text-anchor="end">0.6</text>
<text x="41.9" y="37.99" font-size="12.3" text-anchor="end">0.7</text>
<text x="49.1" y="14.3" font-size="15.3">A</text>
<path transform="translate(181.60,269.50) scale(17.400)" d="M0.035 -0.610Q0.075 -0.680 0.130 -0.660Q0.175 -0.636 0.212 -0.512L0.345 -0.099Q0.372 -0.014 0.440 -0.028M0.218 -0.395L0.006 -0.004" fill="none" stroke="#1a1a1a" stroke-width="0.088" stroke-linejoin="round"/>
<text x="189.5" y="269.5" font-size="17.4" stroke-width="0.35">/nm</text>
<text transform="translate(14.7,110.8) rotate(-90)" font-size="17" text-anchor="middle">Abs</text>
</g>
<g fill="none" stroke-width="1.95" stroke-linejoin="round">
<path d="M399.80 35.20C400.2 35.5 401.5 36.4 402.3 37.1C403.1 37.7 404.0 38.5 404.8 39.3C405.6 40.1 406.5 41.0 407.3 42.0C408.1 42.9 409.0 43.9 409.8 45.0C410.6 46.0 411.5 47.1 412.3 48.1C413.1 49.2 414.0 50.2 414.8 51.3C415.6 52.4 416.6 53.6 417.3 54.5C418.1 55.5 418.9 56.6 419.3 57.1C419.7 57.7 419.6 57.6 419.8 57.7C420.0 57.9 420.1 58.1 420.3 58.2C420.5 58.3 420.6 58.3 420.8 58.4C421.0 58.5 421.1 58.6 421.3 58.8C421.5 59.1 421.6 59.5 421.8 59.9C422.0 60.2 422.1 60.6 422.3 60.9C422.5 61.2 422.6 61.4 422.8 61.6C423.0 61.8 423.0 61.8 423.3 62.3C423.6 62.7 424.1 63.3 424.8 64.2C425.5 65.0 426.5 66.3 427.3 67.4C428.1 68.4 429.0 69.5 429.8 70.6C430.6 71.6 431.5 72.7 432.3 73.7C433.1 74.8 434.0 75.8 434.8 76.8C435.6 77.7 436.5 78.7 437.3 79.6C438.1 80.5 439.0 81.4 439.8 82.2C440.6 83.1 441.5 83.9 442.3 84.7C443.1 85.5 444.0 86.3 444.8 87.1C445.6 87.9 446.5 88.7 447.3 89.4C448.1 90.2 449.0 90.9 449.8 91.7C450.6 92.4 451.5 93.1 452.3 93.8C453.1 94.5 454.0 95.1 454.8 95.8C455.6 96.4 456.5 97.0 457.3 97.6C458.1 98.2 459.0 98.7 459.8 99.2C460.6 99.7 461.5 100.2 462.3 100.6C463.1 101.1 464.0 101.5 464.8 101.8C465.6 102.2 466.5 102.5 467.3 102.8C468.1 103.1 469.0 103.3 469.8 103.4C470.6 103.6 471.5 103.6 472.3 103.6C473.1 103.6 474.0 103.6 474.8 103.5C475.6 103.5 476.5 103.4 477.3 103.4C478.1 103.3 479.0 103.2 479.8 103.2C480.6 103.2 481.5 103.2 482.3 103.4C483.1 103.5 484.0 103.7 484.8 103.9C485.6 104.2 486.5 104.6 487.3 105.0C488.1 105.4 489.0 105.8 489.8 106.3C490.6 106.8 491.5 107.3 492.3 107.9C493.1 108.4 494.0 108.9 494.8 109.5C495.6 110.1 496.5 110.7 497.3 111.3C498.1 111.9 499.0 112.5 499.8 113.1C500.6 113.7 501.5 114.4 502.3 115.1C503.1 115.8 504.0 116.5 504.8 117.3C505.6 118.1 506.5 119.0 507.3 119.8C508.1 120.7 509.0 121.7 509.8 122.6C510.6 123.6 511.5 124.5 512.3 125.5C513.1 126.5 514.0 127.5 514.8 128.5C515.6 129.5 516.5 130.6 517.3 131.5C518.1 132.5 519.0 133.6 519.8 134.5C520.6 135.4 521.5 136.3 522.3 137.1C523.1 138.0 524.0 138.7 524.8 139.4C525.6 140.1 526.5 140.8 527.3 141.4C528.1 142.0 529.0 142.6 529.8 143.1C530.6 143.7 531.5 144.3 532.3 144.8C533.1 145.3 534.0 145.8 534.8 146.3C535.6 146.8 536.5 147.3 537.3 147.8C538.1 148.2 539.0 148.7 539.8 149.1C540.6 149.6 541.5 150.0 542.3 150.5C543.1 150.9 544.0 151.3 544.8 151.7C545.6 152.2 546.5 152.6 547.3 153.0C548.1 153.4 549.0 153.8 549.8 154.2C550.6 154.5 551.5 154.9 552.3 155.3C553.1 155.6 554.0 156.0 554.8 156.3C555.6 156.7 556.5 157.0 557.3 157.3C558.1 157.7 559.0 158.0 559.8 158.3C560.6 158.6 561.5 158.9 562.3 159.2C563.1 159.5 564.0 159.8 564.8 160.0C565.6 160.3 566.5 160.6 567.3 160.9C568.1 161.1 569.0 161.4 569.8 161.7C570.6 161.9 571.5 162.2 572.3 162.4C573.1 162.7 574.0 162.9 574.8 163.2C575.6 163.4 576.5 163.7 577.3 163.9C578.1 164.1 579.0 164.3 579.8 164.6C580.6 164.8 581.5 165.0 582.3 165.2C583.1 165.5 584.0 165.7 584.8 165.9C585.6 166.1 586.5 166.3 587.3 166.5C588.1 166.7 589.0 166.9 589.8 167.1C590.6 167.3 591.5 167.5 592.3 167.7C593.1 168.0 594.0 168.1 594.8 168.3C595.6 168.5 596.5 168.7 597.3 168.9C598.1 169.1 599.0 169.3 599.8 169.5C600.6 169.7 601.5 169.9 602.3 170.1C603.1 170.3 604.0 170.4 604.8 170.6C605.6 170.8 606.5 171.0 607.3 171.2C608.1 171.4 609.0 171.6 609.8 171.8C610.6 172.0 611.5 172.1 612.3 172.3C613.1 172.5 614.0 172.7 614.8 172.9C615.6 173.1 616.5 173.3 617.3 173.5C618.1 173.7 619.0 173.8 619.8 174.0C620.6 174.2 621.5 174.4 622.3 174.6C623.1 174.8 624.0 174.9 624.8 175.1C625.6 175.3 626.5 175.5 627.3 175.7C628.1 175.8 629.0 176.0 629.8 176.2C630.6 176.4 631.5 176.6 632.3 176.7C633.1 176.9 634.0 177.1 634.8 177.3C635.6 177.4 636.5 177.6 637.3 177.8C638.1 178.0 639.0 178.1 639.8 178.3C640.6 178.5 641.5 178.7 642.3 178.8C643.1 179.0 644.0 179.2 644.8 179.3C645.6 179.5 646.5 179.6 647.3 179.8C648.1 179.9 649.0 180.1 649.8 180.2C650.6 180.4 651.5 180.5 652.3 180.7C653.1 180.8 654.0 181.0 654.8 181.1C655.6 181.2 656.5 181.4 657.3 181.5C658.1 181.6 659.0 181.7 659.8 181.9C660.6 182.0 661.5 182.1 662.3 182.2C663.1 182.3 664.0 182.5 664.8 182.6C665.6 182.7 666.5 182.8 667.3 182.9C668.1 183.0 669.0 183.1 669.8 183.3C670.6 183.4 671.5 183.5 672.3 183.6C673.1 183.7 674.0 183.8 674.8 183.9C675.6 184.0 676.5 184.1 677.3 184.2C678.1 184.3 679.0 184.4 679.8 184.5C680.6 184.6 681.5 184.7 682.3 184.8C683.1 184.9 684.0 185.0 684.8 185.1C685.6 185.1 686.5 185.2 687.3 185.3C688.1 185.4 689.0 185.5 689.8 185.6C690.6 185.7 691.5 185.8 692.3 185.9C693.1 186.0 694.0 186.0 694.8 186.1C695.6 186.2 696.7 186.3 697.3 186.4C697.9 186.5 698.1 186.5 698.2 186.5" stroke="#1464d2"/>
<path d="M399.80 59.80C400.2 60.2 401.5 61.3 402.3 62.1C403.1 62.9 404.0 63.6 404.8 64.4C405.6 65.2 406.5 66.0 407.3 66.8C408.1 67.6 409.0 68.4 409.8 69.3C410.6 70.1 411.5 71.0 412.3 71.9C413.1 72.8 414.0 73.8 414.8 74.7C415.6 75.6 416.6 76.7 417.3 77.5C418.1 78.3 418.9 79.2 419.3 79.7C419.7 80.1 419.6 80.0 419.8 80.2C420.0 80.3 420.1 80.5 420.3 80.5C420.5 80.6 420.6 80.5 420.8 80.6C421.0 80.7 421.1 80.7 421.3 80.9C421.5 81.1 421.6 81.6 421.8 81.9C422.0 82.2 422.1 82.5 422.3 82.8C422.5 83.0 422.6 83.2 422.8 83.4C423.0 83.6 423.0 83.6 423.3 83.9C423.6 84.3 424.1 84.8 424.8 85.5C425.5 86.1 426.5 87.1 427.3 88.0C428.1 88.8 429.0 89.6 429.8 90.4C430.6 91.3 431.5 92.1 432.3 92.9C433.1 93.7 434.0 94.5 434.8 95.3C435.6 96.1 436.5 96.9 437.3 97.7C438.1 98.5 439.0 99.2 439.8 100.0C440.6 100.8 441.5 101.5 442.3 102.3C443.1 103.0 444.0 103.8 444.8 104.5C445.6 105.2 446.5 105.9 447.3 106.6C448.1 107.3 449.0 107.9 449.8 108.5C450.6 109.2 451.5 109.8 452.3 110.3C453.1 110.9 454.0 111.5 454.8 112.0C455.6 112.5 456.5 113.0 457.3 113.5C458.1 114.0 459.0 114.4 459.8 114.8C460.6 115.2 461.5 115.6 462.3 115.9C463.1 116.3 464.0 116.5 464.8 116.8C465.6 117.0 466.5 117.3 467.3 117.4C468.1 117.6 469.0 117.8 469.8 117.9C470.6 118.0 471.5 118.1 472.3 118.1C473.1 118.0 474.0 117.9 474.8 117.7C475.6 117.5 476.5 117.2 477.3 117.0C478.1 116.8 479.0 116.6 479.8 116.5C480.6 116.4 481.5 116.5 482.3 116.6C483.1 116.7 484.0 116.9 484.8 117.1C485.6 117.4 486.5 117.7 487.3 118.0C488.1 118.3 489.0 118.7 489.8 119.1C490.6 119.5 491.5 119.9 492.3 120.3C493.1 120.8 494.0 121.3 494.8 121.8C495.6 122.3 496.5 122.9 497.3 123.5C498.1 124.1 499.0 124.7 499.8 125.3C500.6 126.0 501.5 126.6 502.3 127.4C503.1 128.1 504.0 128.8 504.8 129.6C505.6 130.4 506.5 131.2 507.3 132.1C508.1 133.0 509.0 133.9 509.8 134.9C510.6 135.8 511.5 136.8 512.3 137.8C513.1 138.8 514.0 139.9 514.8 140.9C515.6 141.8 516.5 142.8 517.3 143.8C518.1 144.7 519.0 145.6 519.8 146.5C520.6 147.4 521.5 148.2 522.3 149.0C523.1 149.8 524.0 150.5 524.8 151.2C525.6 151.9 526.5 152.6 527.3 153.2C528.1 153.8 529.0 154.4 529.8 155.0C530.6 155.5 531.5 156.0 532.3 156.5C533.1 156.9 534.0 157.4 534.8 157.8C535.6 158.2 536.5 158.6 537.3 159.0C538.1 159.4 539.0 159.8 539.8 160.1C540.6 160.5 541.5 160.9 542.3 161.2C543.1 161.6 544.0 162.0 544.8 162.3C545.6 162.7 546.5 163.0 547.3 163.3C548.1 163.7 549.0 164.0 549.8 164.3C550.6 164.7 551.5 165.0 552.3 165.3C553.1 165.6 554.0 165.9 554.8 166.2C555.6 166.5 556.5 166.7 557.3 167.0C558.1 167.3 559.0 167.5 559.8 167.8C560.6 168.1 561.5 168.3 562.3 168.6C563.1 168.8 564.0 169.0 564.8 169.3C565.6 169.5 566.5 169.7 567.3 170.0C568.1 170.2 569.0 170.4 569.8 170.7C570.6 170.9 571.5 171.1 572.3 171.3C573.1 171.5 574.0 171.8 574.8 172.0C575.6 172.2 576.5 172.4 577.3 172.6C578.1 172.8 579.0 173.0 579.8 173.2C580.6 173.5 581.5 173.7 582.3 173.9C583.1 174.1 584.0 174.3 584.8 174.5C585.6 174.7 586.5 174.8 587.3 175.0C588.1 175.2 589.0 175.4 589.8 175.6C590.6 175.8 591.5 176.0 592.3 176.2C593.1 176.3 594.0 176.5 594.8 176.7C595.6 176.9 596.5 177.1 597.3 177.2C598.1 177.4 599.0 177.6 599.8 177.7C600.6 177.9 601.5 178.1 602.3 178.2C603.1 178.4 604.0 178.6 604.8 178.7C605.6 178.9 606.5 179.1 607.3 179.2C608.1 179.4 609.0 179.5 609.8 179.7C610.6 179.8 611.5 180.0 612.3 180.1C613.1 180.3 614.0 180.4 614.8 180.6C615.6 180.7 616.5 180.9 617.3 181.0C618.1 181.1 619.0 181.3 619.8 181.4C620.6 181.6 621.5 181.7 622.3 181.8C623.1 182.0 624.0 182.1 624.8 182.2C625.6 182.4 626.5 182.5 627.3 182.6C628.1 182.8 629.0 182.9 629.8 183.0C630.6 183.2 631.5 183.3 632.3 183.4C633.1 183.5 634.0 183.7 634.8 183.8C635.6 183.9 636.5 184.0 637.3 184.2C638.1 184.3 639.0 184.4 639.8 184.5C640.6 184.7 641.5 184.8 642.3 184.9C643.1 185.0 644.0 185.1 644.8 185.3C645.6 185.4 646.5 185.5 647.3 185.6C648.1 185.7 649.0 185.9 649.8 186.0C650.6 186.1 651.5 186.2 652.3 186.3C653.1 186.4 654.0 186.5 654.8 186.7C655.6 186.8 656.5 186.9 657.3 187.0C658.1 187.1 659.0 187.2 659.8 187.3C660.6 187.4 661.5 187.5 662.3 187.6C663.1 187.8 664.0 187.9 664.8 188.0C665.6 188.1 666.5 188.2 667.3 188.3C668.1 188.4 669.0 188.5 669.8 188.6C670.6 188.7 671.5 188.8 672.3 188.9C673.1 189.0 674.0 189.1 674.8 189.2C675.6 189.3 676.5 189.4 677.3 189.5C678.1 189.6 679.0 189.7 679.8 189.7C680.6 189.8 681.5 189.9 682.3 190.0C683.1 190.1 684.0 190.2 684.8 190.3C685.6 190.4 686.5 190.5 687.3 190.6C688.1 190.6 689.0 190.7 689.8 190.8C690.6 190.9 691.5 191.0 692.3 191.1C693.1 191.2 694.0 191.3 694.8 191.3C695.6 191.4 696.7 191.5 697.3 191.6C697.9 191.7 698.1 191.7 698.2 191.7" stroke="#0d3f8c"/>
<path d="M399.80 86.00C400.2 86.4 401.5 87.5 402.3 88.2C403.1 89.0 404.0 89.7 404.8 90.4C405.6 91.2 406.5 91.9 407.3 92.7C408.1 93.4 409.0 94.2 409.8 94.9C410.6 95.7 411.5 96.4 412.3 97.2C413.1 98.0 414.0 98.7 414.8 99.5C415.6 100.3 416.6 101.1 417.3 101.8C418.1 102.5 418.9 103.2 419.3 103.6C419.7 104.0 419.6 103.9 419.8 104.0C420.0 104.2 420.1 104.3 420.3 104.3C420.5 104.3 420.6 104.3 420.8 104.3C421.0 104.4 421.1 104.4 421.3 104.6C421.5 104.8 421.6 105.1 421.8 105.4C422.0 105.7 422.1 106.0 422.3 106.3C422.5 106.5 422.6 106.6 422.8 106.8C423.0 107.0 423.0 107.0 423.3 107.3C423.6 107.6 424.1 108.1 424.8 108.7C425.5 109.3 426.5 110.2 427.3 110.9C428.1 111.6 429.0 112.4 429.8 113.1C430.6 113.8 431.5 114.4 432.3 115.1C433.1 115.7 434.0 116.4 434.8 117.0C435.6 117.6 436.5 118.1 437.3 118.7C438.1 119.2 439.0 119.8 439.8 120.3C440.6 120.8 441.5 121.3 442.3 121.8C443.1 122.4 444.0 122.9 444.8 123.4C445.6 123.9 446.5 124.4 447.3 124.9C448.1 125.4 449.0 125.9 449.8 126.3C450.6 126.8 451.5 127.2 452.3 127.7C453.1 128.1 454.0 128.5 454.8 128.9C455.6 129.3 456.5 129.6 457.3 130.0C458.1 130.3 459.0 130.6 459.8 130.9C460.6 131.2 461.5 131.5 462.3 131.7C463.1 132.0 464.0 132.2 464.8 132.3C465.6 132.5 466.5 132.7 467.3 132.8C468.1 132.9 469.0 132.9 469.8 132.8C470.6 132.8 471.5 132.6 472.3 132.3C473.1 132.1 474.0 131.7 474.8 131.3C475.6 130.9 476.5 130.4 477.3 130.0C478.1 129.5 479.0 129.1 479.8 128.8C480.6 128.5 481.5 128.3 482.3 128.2C483.1 128.1 484.0 128.2 484.8 128.4C485.6 128.6 486.5 129.0 487.3 129.3C488.1 129.7 489.0 130.2 489.8 130.7C490.6 131.2 491.5 131.8 492.3 132.4C493.1 133.0 494.0 133.7 494.8 134.4C495.6 135.2 496.5 135.9 497.3 136.6C498.1 137.4 499.0 138.1 499.8 138.8C500.6 139.6 501.5 140.3 502.3 141.1C503.1 141.8 504.0 142.6 504.8 143.4C505.6 144.1 506.5 144.9 507.3 145.7C508.1 146.4 509.0 147.2 509.8 148.0C510.6 148.7 511.5 149.5 512.3 150.3C513.1 151.0 514.0 151.8 514.8 152.5C515.6 153.3 516.5 154.0 517.3 154.7C518.1 155.4 519.0 156.1 519.8 156.8C520.6 157.5 521.5 158.2 522.3 158.8C523.1 159.5 524.0 160.1 524.8 160.7C525.6 161.3 526.5 161.9 527.3 162.4C528.1 163.0 529.0 163.5 529.8 164.0C530.6 164.5 531.5 165.0 532.3 165.4C533.1 165.9 534.0 166.3 534.8 166.7C535.6 167.2 536.5 167.6 537.3 167.9C538.1 168.3 539.0 168.7 539.8 169.0C540.6 169.3 541.5 169.7 542.3 170.0C543.1 170.3 544.0 170.6 544.8 170.8C545.6 171.1 546.5 171.4 547.3 171.7C548.1 171.9 549.0 172.2 549.8 172.5C550.6 172.7 551.5 172.9 552.3 173.2C553.1 173.4 554.0 173.7 554.8 173.9C555.6 174.1 556.5 174.4 557.3 174.6C558.1 174.8 559.0 175.0 559.8 175.2C560.6 175.4 561.5 175.6 562.3 175.9C563.1 176.1 564.0 176.3 564.8 176.5C565.6 176.7 566.5 176.8 567.3 177.0C568.1 177.2 569.0 177.4 569.8 177.6C570.6 177.8 571.5 178.0 572.3 178.1C573.1 178.3 574.0 178.5 574.8 178.7C575.6 178.8 576.5 179.0 577.3 179.2C578.1 179.3 579.0 179.5 579.8 179.6C580.6 179.8 581.5 180.0 582.3 180.1C583.1 180.3 584.0 180.4 584.8 180.6C585.6 180.7 586.5 180.9 587.3 181.0C588.1 181.2 589.0 181.3 589.8 181.4C590.6 181.6 591.5 181.7 592.3 181.9C593.1 182.0 594.0 182.2 594.8 182.3C595.6 182.4 596.5 182.6 597.3 182.7C598.1 182.8 599.0 183.0 599.8 183.1C600.6 183.2 601.5 183.3 602.3 183.5C603.1 183.6 604.0 183.7 604.8 183.9C605.6 184.0 606.5 184.1 607.3 184.3C608.1 184.4 609.0 184.5 609.8 184.7C610.6 184.8 611.5 184.9 612.3 185.1C613.1 185.2 614.0 185.4 614.8 185.5C615.6 185.6 616.5 185.8 617.3 185.9C618.1 186.1 619.0 186.2 619.8 186.3C620.6 186.5 621.5 186.6 622.3 186.7C623.1 186.9 624.0 187.0 624.8 187.1C625.6 187.3 626.5 187.4 627.3 187.5C628.1 187.7 629.0 187.8 629.8 187.9C630.6 188.1 631.5 188.2 632.3 188.3C633.1 188.4 634.0 188.6 634.8 188.7C635.6 188.8 636.5 188.9 637.3 189.1C638.1 189.2 639.0 189.3 639.8 189.4C640.6 189.5 641.5 189.7 642.3 189.8C643.1 189.9 644.0 190.0 644.8 190.1C645.6 190.2 646.5 190.3 647.3 190.4C648.1 190.6 649.0 190.7 649.8 190.8C650.6 190.9 651.5 191.0 652.3 191.1C653.1 191.2 654.0 191.3 654.8 191.4C655.6 191.4 656.5 191.5 657.3 191.6C658.1 191.7 659.0 191.8 659.8 191.9C660.6 192.0 661.5 192.1 662.3 192.1C663.1 192.2 664.0 192.3 664.8 192.4C665.6 192.5 666.5 192.6 667.3 192.6C668.1 192.7 669.0 192.8 669.8 192.9C670.6 193.0 671.5 193.0 672.3 193.1C673.1 193.2 674.0 193.3 674.8 193.3C675.6 193.4 676.5 193.5 677.3 193.6C678.1 193.7 679.0 193.7 679.8 193.8C680.6 193.9 681.5 194.0 682.3 194.0C683.1 194.1 684.0 194.2 684.8 194.2C685.6 194.3 686.5 194.4 687.3 194.5C688.1 194.5 689.0 194.6 689.8 194.7C690.6 194.7 691.5 194.8 692.3 194.9C693.1 195.0 694.0 195.0 694.8 195.1C695.6 195.2 696.7 195.3 697.3 195.3C697.9 195.4 698.1 195.4 698.2 195.4" stroke="#0a2855"/>
<path d="M399.80 114.20C400.2 114.4 401.5 115.1 402.3 115.6C403.1 116.1 404.0 116.5 404.8 117.0C405.6 117.5 406.5 118.0 407.3 118.5C408.1 119.0 409.0 119.6 409.8 120.1C410.6 120.7 411.5 121.3 412.3 121.9C413.1 122.5 414.0 123.1 414.8 123.7C415.6 124.3 416.6 125.0 417.3 125.6C418.1 126.1 418.9 126.7 419.3 127.0C419.7 127.3 419.6 127.3 419.8 127.4C420.0 127.4 420.1 127.5 420.3 127.5C420.5 127.5 420.6 127.4 420.8 127.4C421.0 127.4 421.1 127.4 421.3 127.6C421.5 127.7 421.6 128.1 421.8 128.3C422.0 128.5 422.1 128.8 422.3 129.0C422.5 129.2 422.6 129.3 422.8 129.5C423.0 129.6 423.0 129.6 423.3 129.8C423.6 130.0 424.1 130.4 424.8 130.8C425.5 131.2 426.5 131.9 427.3 132.4C428.1 132.9 429.0 133.4 429.8 134.0C430.6 134.5 431.5 135.0 432.3 135.5C433.1 136.0 434.0 136.4 434.8 136.9C435.6 137.4 436.5 137.9 437.3 138.3C438.1 138.8 439.0 139.2 439.8 139.7C440.6 140.1 441.5 140.5 442.3 141.0C443.1 141.4 444.0 141.8 444.8 142.2C445.6 142.6 446.5 143.0 447.3 143.3C448.1 143.7 449.0 144.1 449.8 144.4C450.6 144.7 451.5 145.1 452.3 145.4C453.1 145.7 454.0 146.0 454.8 146.2C455.6 146.5 456.5 146.8 457.3 147.0C458.1 147.3 459.0 147.5 459.8 147.7C460.6 147.9 461.5 148.1 462.3 148.2C463.1 148.4 464.0 148.5 464.8 148.6C465.6 148.7 466.5 148.7 467.3 148.7C468.1 148.7 469.0 148.7 469.8 148.5C470.6 148.4 471.5 148.2 472.3 147.8C473.1 147.5 474.0 146.9 474.8 146.5C475.6 146.0 476.5 145.4 477.3 144.9C478.1 144.4 479.0 143.8 479.8 143.4C480.6 143.0 481.5 142.6 482.3 142.4C483.1 142.2 484.0 142.3 484.8 142.4C485.6 142.4 486.5 142.6 487.3 142.9C488.1 143.1 489.0 143.5 489.8 143.9C490.6 144.3 491.5 144.9 492.3 145.4C493.1 146.0 494.0 146.6 494.8 147.3C495.6 147.9 496.5 148.6 497.3 149.2C498.1 149.9 499.0 150.5 499.8 151.2C500.6 151.8 501.5 152.5 502.3 153.1C503.1 153.8 504.0 154.4 504.8 155.1C505.6 155.7 506.5 156.4 507.3 157.1C508.1 157.8 509.0 158.5 509.8 159.2C510.6 159.9 511.5 160.6 512.3 161.3C513.1 162.1 514.0 162.8 514.8 163.5C515.6 164.2 516.5 164.9 517.3 165.6C518.1 166.3 519.0 167.0 519.8 167.7C520.6 168.3 521.5 169.0 522.3 169.6C523.1 170.2 524.0 170.8 524.8 171.4C525.6 171.9 526.5 172.4 527.3 172.9C528.1 173.4 529.0 173.8 529.8 174.2C530.6 174.7 531.5 175.0 532.3 175.4C533.1 175.8 534.0 176.1 534.8 176.5C535.6 176.8 536.5 177.1 537.3 177.4C538.1 177.7 539.0 178.0 539.8 178.3C540.6 178.6 541.5 178.8 542.3 179.1C543.1 179.3 544.0 179.6 544.8 179.8C545.6 180.1 546.5 180.3 547.3 180.5C548.1 180.7 549.0 181.0 549.8 181.2C550.6 181.4 551.5 181.6 552.3 181.8C553.1 182.0 554.0 182.2 554.8 182.4C555.6 182.6 556.5 182.8 557.3 183.0C558.1 183.1 559.0 183.3 559.8 183.5C560.6 183.7 561.5 183.9 562.3 184.0C563.1 184.2 564.0 184.4 564.8 184.5C565.6 184.7 566.5 184.9 567.3 185.0C568.1 185.2 569.0 185.3 569.8 185.5C570.6 185.6 571.5 185.8 572.3 186.0C573.1 186.1 574.0 186.3 574.8 186.4C575.6 186.5 576.5 186.7 577.3 186.8C578.1 187.0 579.0 187.1 579.8 187.3C580.6 187.4 581.5 187.5 582.3 187.7C583.1 187.8 584.0 187.9 584.8 188.1C585.6 188.2 586.5 188.3 587.3 188.5C588.1 188.6 589.0 188.7 589.8 188.9C590.6 189.0 591.5 189.1 592.3 189.3C593.1 189.4 594.0 189.5 594.8 189.7C595.6 189.8 596.5 189.9 597.3 190.1C598.1 190.2 599.0 190.3 599.8 190.4C600.6 190.6 601.5 190.7 602.3 190.8C603.1 191.0 604.0 191.1 604.8 191.2C605.6 191.3 606.5 191.5 607.3 191.6C608.1 191.7 609.0 191.8 609.8 191.9C610.6 192.1 611.5 192.2 612.3 192.3C613.1 192.4 614.0 192.5 614.8 192.7C615.6 192.8 616.5 192.9 617.3 193.0C618.1 193.1 619.0 193.2 619.8 193.4C620.6 193.5 621.5 193.6 622.3 193.7C623.1 193.8 624.0 193.9 624.8 194.0C625.6 194.1 626.5 194.2 627.3 194.3C628.1 194.4 629.0 194.5 629.8 194.6C630.6 194.7 631.5 194.8 632.3 195.0C633.1 195.1 634.0 195.2 634.8 195.3C635.6 195.4 636.5 195.5 637.3 195.6C638.1 195.6 639.0 195.7 639.8 195.8C640.6 195.9 641.5 196.0 642.3 196.1C643.1 196.2 644.0 196.3 644.8 196.4C645.6 196.5 646.5 196.6 647.3 196.6C648.1 196.7 649.0 196.8 649.8 196.9C650.6 196.9 651.5 197.0 652.3 197.1C653.1 197.1 654.0 197.2 654.8 197.3C655.6 197.3 656.5 197.4 657.3 197.5C658.1 197.5 659.0 197.6 659.8 197.6C660.6 197.7 661.5 197.7 662.3 197.8C663.1 197.8 664.0 197.9 664.8 197.9C665.6 198.0 666.5 198.0 667.3 198.1C668.1 198.1 669.0 198.2 669.8 198.2C670.6 198.3 671.5 198.3 672.3 198.3C673.1 198.4 674.0 198.4 674.8 198.5C675.6 198.5 676.5 198.6 677.3 198.6C678.1 198.6 679.0 198.7 679.8 198.7C680.6 198.8 681.5 198.8 682.3 198.8C683.1 198.9 684.0 198.9 684.8 198.9C685.6 199.0 686.5 199.0 687.3 199.0C688.1 199.1 689.0 199.1 689.8 199.2C690.6 199.2 691.5 199.2 692.3 199.3C693.1 199.3 694.0 199.3 694.8 199.4C695.6 199.4 696.7 199.4 697.3 199.5C697.9 199.5 698.1 199.5 698.2 199.5" stroke="#0a1428"/>
<path d="M399.80 138.40C400.2 138.6 401.5 139.3 402.3 139.7C403.1 140.1 404.0 140.5 404.8 141.0C405.6 141.4 406.5 141.8 407.3 142.3C408.1 142.7 409.0 143.1 409.8 143.5C410.6 144.0 411.5 144.4 412.3 144.8C413.1 145.2 414.0 145.7 414.8 146.1C415.6 146.5 416.6 147.0 417.3 147.3C418.1 147.7 418.9 148.1 419.3 148.3C419.7 148.5 419.6 148.5 419.8 148.6C420.0 148.6 420.1 148.6 420.3 148.6C420.5 148.6 420.6 148.4 420.8 148.4C421.0 148.4 421.1 148.4 421.3 148.5C421.5 148.6 421.6 148.9 421.8 149.1C422.0 149.3 422.1 149.6 422.3 149.7C422.5 149.9 422.6 150.0 422.8 150.1C423.0 150.2 423.0 150.2 423.3 150.4C423.6 150.5 424.1 150.8 424.8 151.1C425.5 151.4 426.5 151.9 427.3 152.3C428.1 152.8 429.0 153.2 429.8 153.6C430.6 154.0 431.5 154.4 432.3 154.8C433.1 155.2 434.0 155.6 434.8 156.0C435.6 156.4 436.5 156.8 437.3 157.1C438.1 157.5 439.0 157.8 439.8 158.2C440.6 158.5 441.5 158.8 442.3 159.1C443.1 159.4 444.0 159.6 444.8 159.9C445.6 160.1 446.5 160.4 447.3 160.6C448.1 160.8 449.0 161.0 449.8 161.2C450.6 161.4 451.5 161.5 452.3 161.7C453.1 161.8 454.0 162.0 454.8 162.1C455.6 162.2 456.5 162.3 457.3 162.3C458.1 162.3 459.0 162.4 459.8 162.3C460.6 162.3 461.5 162.2 462.3 162.1C463.1 162.0 464.0 161.9 464.8 161.7C465.6 161.5 466.5 161.3 467.3 161.0C468.1 160.8 469.0 160.5 469.8 160.1C470.6 159.7 471.5 159.1 472.3 158.6C473.1 158.1 474.0 157.5 474.8 157.0C475.6 156.4 476.5 156.0 477.3 155.5C478.1 155.0 479.0 154.5 479.8 154.1C480.6 153.7 481.5 153.3 482.3 153.2C483.1 153.0 484.0 153.0 484.8 153.1C485.6 153.2 486.5 153.5 487.3 153.8C488.1 154.2 489.0 154.6 489.8 155.1C490.6 155.6 491.5 156.2 492.3 156.9C493.1 157.6 494.0 158.5 494.8 159.2C495.6 160.0 496.5 160.7 497.3 161.5C498.1 162.2 499.0 162.9 499.8 163.7C500.6 164.4 501.5 165.1 502.3 165.8C503.1 166.6 504.0 167.3 504.8 168.0C505.6 168.7 506.5 169.3 507.3 170.0C508.1 170.7 509.0 171.3 509.8 172.0C510.6 172.6 511.5 173.3 512.3 173.9C513.1 174.5 514.0 175.2 514.8 175.8C515.6 176.4 516.5 177.0 517.3 177.5C518.1 178.1 519.0 178.7 519.8 179.2C520.6 179.8 521.5 180.3 522.3 180.8C523.1 181.3 524.0 181.8 524.8 182.3C525.6 182.8 526.5 183.2 527.3 183.6C528.1 184.0 529.0 184.4 529.8 184.8C530.6 185.2 531.5 185.5 532.3 185.9C533.1 186.2 534.0 186.5 534.8 186.8C535.6 187.1 536.5 187.4 537.3 187.7C538.1 187.9 539.0 188.2 539.8 188.4C540.6 188.7 541.5 188.9 542.3 189.1C543.1 189.3 544.0 189.5 544.8 189.7C545.6 190.0 546.5 190.1 547.3 190.3C548.1 190.5 549.0 190.7 549.8 190.9C550.6 191.1 551.5 191.2 552.3 191.4C553.1 191.6 554.0 191.7 554.8 191.9C555.6 192.0 556.5 192.2 557.3 192.3C558.1 192.5 559.0 192.6 559.8 192.7C560.6 192.9 561.5 193.0 562.3 193.1C563.1 193.3 564.0 193.4 564.8 193.5C565.6 193.6 566.5 193.8 567.3 193.9C568.1 194.0 569.0 194.1 569.8 194.2C570.6 194.3 571.5 194.4 572.3 194.6C573.1 194.7 574.0 194.8 574.8 194.9C575.6 195.0 576.5 195.1 577.3 195.2C578.1 195.3 579.0 195.4 579.8 195.5C580.6 195.5 581.5 195.6 582.3 195.7C583.1 195.8 584.0 195.9 584.8 196.0C585.6 196.1 586.5 196.2 587.3 196.3C588.1 196.3 589.0 196.4 589.8 196.5C590.6 196.6 591.5 196.7 592.3 196.8C593.1 196.9 594.0 197.0 594.8 197.1C595.6 197.2 596.5 197.2 597.3 197.3C598.1 197.4 599.0 197.5 599.8 197.6C600.6 197.7 601.5 197.8 602.3 197.9C603.1 198.0 604.0 198.1 604.8 198.2C605.6 198.3 606.5 198.3 607.3 198.4C608.1 198.5 609.0 198.6 609.8 198.7C610.6 198.8 611.5 198.9 612.3 199.0C613.1 199.1 614.0 199.2 614.8 199.3C615.6 199.4 616.5 199.4 617.3 199.5C618.1 199.6 619.0 199.7 619.8 199.8C620.6 199.9 621.5 199.9 622.3 200.0C623.1 200.1 624.0 200.2 624.8 200.2C625.6 200.3 626.5 200.4 627.3 200.5C628.1 200.5 629.0 200.6 629.8 200.7C630.6 200.7 631.5 200.8 632.3 200.9C633.1 201.0 634.0 201.0 634.8 201.1C635.6 201.2 636.5 201.2 637.3 201.3C638.1 201.4 639.0 201.4 639.8 201.5C640.6 201.6 641.5 201.6 642.3 201.7C643.1 201.8 644.0 201.8 644.8 201.9C645.6 202.0 646.5 202.0 647.3 202.1C648.1 202.1 649.0 202.2 649.8 202.2C650.6 202.3 651.5 202.3 652.3 202.4C653.1 202.4 654.0 202.5 654.8 202.5C655.6 202.6 656.5 202.6 657.3 202.7C658.1 202.7 659.0 202.7 659.8 202.8C660.6 202.8 661.5 202.9 662.3 202.9C663.1 202.9 664.0 203.0 664.8 203.0C665.6 203.0 666.5 203.1 667.3 203.1C668.1 203.1 669.0 203.2 669.8 203.2C670.6 203.2 671.5 203.3 672.3 203.3C673.1 203.3 674.0 203.4 674.8 203.4C675.6 203.4 676.5 203.5 677.3 203.5C678.1 203.5 679.0 203.6 679.8 203.6C680.6 203.6 681.5 203.7 682.3 203.7C683.1 203.7 684.0 203.8 684.8 203.8C685.6 203.8 686.5 203.9 687.3 203.9C688.1 203.9 689.0 203.9 689.8 204.0C690.6 204.0 691.5 204.0 692.3 204.1C693.1 204.1 694.0 204.1 694.8 204.2C695.6 204.2 696.7 204.2 697.3 204.3C697.9 204.3 698.1 204.3 698.2 204.3" stroke="#2a1a0f"/>
<path d="M399.80 165.70C400.2 165.9 401.5 166.3 402.3 166.7C403.1 167.0 404.0 167.3 404.8 167.6C405.6 167.9 406.5 168.2 407.3 168.5C408.1 168.8 409.0 169.1 409.8 169.4C410.6 169.7 411.5 170.0 412.3 170.2C413.1 170.5 414.0 170.8 414.8 171.0C415.6 171.3 416.6 171.5 417.3 171.8C418.1 172.0 418.9 172.2 419.3 172.4C419.7 172.5 419.6 172.5 419.8 172.5C420.0 172.5 420.1 172.5 420.3 172.4C420.5 172.4 420.6 172.2 420.8 172.1C421.0 172.1 421.1 172.0 421.3 172.1C421.5 172.2 421.6 172.5 421.8 172.6C422.0 172.8 422.1 173.0 422.3 173.2C422.5 173.3 422.6 173.4 422.8 173.4C423.0 173.5 423.0 173.5 423.3 173.6C423.6 173.7 424.1 173.9 424.8 174.1C425.5 174.3 426.5 174.6 427.3 174.9C428.1 175.1 429.0 175.4 429.8 175.6C430.6 175.9 431.5 176.1 432.3 176.3C433.1 176.6 434.0 176.8 434.8 177.0C435.6 177.2 436.5 177.4 437.3 177.5C438.1 177.7 439.0 177.9 439.8 178.0C440.6 178.2 441.5 178.3 442.3 178.4C443.1 178.5 444.0 178.6 444.8 178.7C445.6 178.8 446.5 178.9 447.3 178.9C448.1 178.9 449.0 178.9 449.8 178.9C450.6 178.9 451.5 178.9 452.3 178.8C453.1 178.8 454.0 178.7 454.8 178.6C455.6 178.5 456.5 178.3 457.3 178.2C458.1 178.0 459.0 177.8 459.8 177.6C460.6 177.4 461.5 177.1 462.3 176.9C463.1 176.6 464.0 176.3 464.8 176.0C465.6 175.6 466.5 175.3 467.3 174.9C468.1 174.5 469.0 174.1 469.8 173.6C470.6 173.1 471.5 172.5 472.3 171.8C473.1 171.2 474.0 170.3 474.8 169.6C475.6 168.9 476.5 168.1 477.3 167.5C478.1 166.9 479.0 166.3 479.8 165.9C480.6 165.4 481.5 165.0 482.3 164.8C483.1 164.5 484.0 164.5 484.8 164.6C485.6 164.8 486.5 165.1 487.3 165.5C488.1 165.9 489.0 166.4 489.8 167.1C490.6 167.7 491.5 168.5 492.3 169.4C493.1 170.2 494.0 171.2 494.8 172.1C495.6 173.0 496.5 173.9 497.3 174.8C498.1 175.7 499.0 176.7 499.8 177.6C500.6 178.5 501.5 179.4 502.3 180.3C503.1 181.2 504.0 182.0 504.8 182.8C505.6 183.7 506.5 184.4 507.3 185.2C508.1 185.9 509.0 186.6 509.8 187.3C510.6 188.0 511.5 188.6 512.3 189.2C513.1 189.9 514.0 190.4 514.8 191.0C515.6 191.5 516.5 192.0 517.3 192.5C518.1 192.9 519.0 193.3 519.8 193.7C520.6 194.0 521.5 194.3 522.3 194.6C523.1 194.9 524.0 195.2 524.8 195.4C525.6 195.6 526.5 195.9 527.3 196.1C528.1 196.3 529.0 196.6 529.8 196.8C530.6 197.0 531.5 197.2 532.3 197.4C533.1 197.6 534.0 197.8 534.8 198.0C535.6 198.2 536.5 198.4 537.3 198.5C538.1 198.7 539.0 198.9 539.8 199.0C540.6 199.2 541.5 199.3 542.3 199.4C543.1 199.6 544.0 199.7 544.8 199.8C545.6 199.9 546.5 200.1 547.3 200.2C548.1 200.3 549.0 200.4 549.8 200.5C550.6 200.6 551.5 200.7 552.3 200.8C553.1 201.0 554.0 201.1 554.8 201.2C555.6 201.3 556.5 201.4 557.3 201.5C558.1 201.6 559.0 201.8 559.8 201.9C560.6 202.0 561.5 202.1 562.3 202.2C563.1 202.3 564.0 202.5 564.8 202.6C565.6 202.7 566.5 202.8 567.3 202.9C568.1 203.0 569.0 203.1 569.8 203.2C570.6 203.3 571.5 203.4 572.3 203.4C573.1 203.5 574.0 203.6 574.8 203.7C575.6 203.7 576.5 203.8 577.3 203.8C578.1 203.9 579.0 203.9 579.8 204.0C580.6 204.0 581.5 204.0 582.3 204.1C583.1 204.1 584.0 204.1 584.8 204.1C585.6 204.1 586.5 204.2 587.3 204.2C588.1 204.2 589.0 204.2 589.8 204.2C590.6 204.2 591.5 204.2 592.3 204.2C593.1 204.2 594.0 204.1 594.8 204.2C595.6 204.2 596.5 204.2 597.3 204.2C598.1 204.2 599.0 204.3 599.8 204.3C600.6 204.4 601.5 204.5 602.3 204.6C603.1 204.7 604.0 204.8 604.8 204.9C605.6 205.0 606.5 205.1 607.3 205.2C608.1 205.4 609.0 205.5 609.8 205.6C610.6 205.7 611.5 205.8 612.3 205.9C613.1 206.0 614.0 206.1 614.8 206.2C615.6 206.3 616.5 206.4 617.3 206.4C618.1 206.5 619.0 206.6 619.8 206.6C620.6 206.7 621.5 206.8 622.3 206.8C623.1 206.9 624.0 206.9 624.8 207.0C625.6 207.0 626.5 207.0 627.3 207.1C628.1 207.1 629.0 207.1 629.8 207.1C630.6 207.1 631.5 207.1 632.3 207.1C633.1 207.1 634.0 207.1 634.8 207.1C635.6 207.1 636.5 207.1 637.3 207.1C638.1 207.1 639.0 207.1 639.8 207.1C640.6 207.1 641.5 207.2 642.3 207.2C643.1 207.2 644.0 207.3 644.8 207.3C645.6 207.4 646.5 207.4 647.3 207.5C648.1 207.6 649.0 207.6 649.8 207.7C650.6 207.7 651.5 207.8 652.3 207.8C653.1 207.9 654.0 207.9 654.8 207.9C655.6 208.0 656.5 208.0 657.3 208.0C658.1 208.1 659.0 208.1 659.8 208.1C660.6 208.1 661.5 208.2 662.3 208.2C663.1 208.2 664.0 208.2 664.8 208.2C665.6 208.3 666.5 208.3 667.3 208.3C668.1 208.3 669.0 208.3 669.8 208.4C670.6 208.4 671.5 208.4 672.3 208.4C673.1 208.4 674.0 208.5 674.8 208.5C675.6 208.5 676.5 208.5 677.3 208.5C678.1 208.6 679.0 208.6 679.8 208.6C680.6 208.6 681.5 208.6 682.3 208.7C683.1 208.7 684.0 208.7 684.8 208.7C685.6 208.7 686.5 208.7 687.3 208.8C688.1 208.8 689.0 208.8 689.8 208.8C690.6 208.8 691.5 208.9 692.3 208.9C693.1 208.9 694.0 208.9 694.8 208.9C695.6 208.9 696.7 209.0 697.3 209.0C697.9 209.0 698.1 209.0 698.2 209.0" stroke="#6b3a12"/>
<path d="M399.80 192.70C400.2 192.8 401.5 192.9 402.3 193.0C403.1 193.2 404.0 193.3 404.8 193.4C405.6 193.5 406.5 193.6 407.3 193.7C408.1 193.9 409.0 194.0 409.8 194.1C410.6 194.2 411.5 194.4 412.3 194.5C413.1 194.6 414.0 194.8 414.8 194.9C415.6 195.1 416.6 195.2 417.3 195.3C418.1 195.5 418.9 195.6 419.3 195.7C419.7 195.7 419.6 195.7 419.8 195.7C420.0 195.7 420.1 195.7 420.3 195.6C420.5 195.5 420.6 195.3 420.8 195.2C421.0 195.1 421.1 195.0 421.3 195.1C421.5 195.1 421.6 195.4 421.8 195.5C422.0 195.7 422.1 195.9 422.3 196.0C422.5 196.1 422.6 196.1 422.8 196.2C423.0 196.2 423.0 196.2 423.3 196.3C423.6 196.3 424.1 196.4 424.8 196.5C425.5 196.6 426.5 196.7 427.3 196.9C428.1 197.0 429.0 197.1 429.8 197.2C430.6 197.3 431.5 197.3 432.3 197.4C433.1 197.5 434.0 197.5 434.8 197.6C435.6 197.6 436.5 197.6 437.3 197.6C438.1 197.6 439.0 197.6 439.8 197.5C440.6 197.5 441.5 197.4 442.3 197.3C443.1 197.3 444.0 197.2 444.8 197.0C445.6 196.9 446.5 196.8 447.3 196.6C448.1 196.4 449.0 196.2 449.8 196.0C450.6 195.7 451.5 195.5 452.3 195.2C453.1 194.9 454.0 194.6 454.8 194.3C455.6 193.9 456.5 193.6 457.3 193.2C458.1 192.9 459.0 192.5 459.8 192.1C460.6 191.7 461.5 191.2 462.3 190.8C463.1 190.4 464.0 189.9 464.8 189.5C465.6 189.0 466.5 188.5 467.3 188.0C468.1 187.5 469.0 186.9 469.8 186.4C470.6 185.8 471.5 185.1 472.3 184.5C473.1 183.8 474.0 183.0 474.8 182.2C475.6 181.5 476.5 180.8 477.3 180.2C478.1 179.6 479.0 179.0 479.8 178.6C480.6 178.2 481.5 177.7 482.3 177.5C483.1 177.3 484.0 177.3 484.8 177.4C485.6 177.5 486.5 177.8 487.3 178.2C488.1 178.6 489.0 179.2 489.8 179.8C490.6 180.4 491.5 181.2 492.3 182.1C493.1 182.9 494.0 183.8 494.8 184.8C495.6 185.7 496.5 186.6 497.3 187.5C498.1 188.4 499.0 189.4 499.8 190.3C500.6 191.2 501.5 192.1 502.3 193.0C503.1 193.9 504.0 194.7 504.8 195.5C505.6 196.3 506.5 197.1 507.3 197.9C508.1 198.6 509.0 199.3 509.8 200.0C510.6 200.6 511.5 201.2 512.3 201.8C513.1 202.3 514.0 202.9 514.8 203.4C515.6 203.8 516.5 204.3 517.3 204.7C518.1 205.2 519.0 205.6 519.8 205.9C520.6 206.3 521.5 206.6 522.3 206.9C523.1 207.2 524.0 207.4 524.8 207.6C525.6 207.8 526.5 208.0 527.3 208.2C528.1 208.3 529.0 208.5 529.8 208.6C530.6 208.7 531.5 208.9 532.3 209.0C533.1 209.1 534.0 209.2 534.8 209.3C535.6 209.4 536.5 209.4 537.3 209.5C538.1 209.6 539.0 209.7 539.8 209.7C540.6 209.8 541.5 209.9 542.3 209.9C543.1 210.0 544.0 210.1 544.8 210.1C545.6 210.2 546.5 210.2 547.3 210.3C548.1 210.3 549.0 210.4 549.8 210.4C550.6 210.5 551.5 210.5 552.3 210.6C553.1 210.6 554.0 210.7 554.8 210.7C555.6 210.8 556.5 210.8 557.3 210.9C558.1 210.9 559.0 211.0 559.8 211.0C560.6 211.0 561.5 211.1 562.3 211.1C563.1 211.2 564.0 211.2 564.8 211.2C565.6 211.3 566.5 211.3 567.3 211.3C568.1 211.4 569.0 211.4 569.8 211.4C570.6 211.4 571.5 211.4 572.3 211.5C573.1 211.5 574.0 211.5 574.8 211.5C575.6 211.5 576.5 211.5 577.3 211.4C578.1 211.4 579.0 211.4 579.8 211.4C580.6 211.3 581.5 211.3 582.3 211.3C583.1 211.3 584.0 211.2 584.8 211.2C585.6 211.1 586.5 211.1 587.3 211.1C588.1 211.0 589.0 211.0 589.8 210.9C590.6 210.9 591.5 210.8 592.3 210.8C593.1 210.7 594.0 210.7 594.8 210.7C595.6 210.6 596.5 210.6 597.3 210.6C598.1 210.6 599.0 210.6 599.8 210.6C600.6 210.7 601.5 210.7 602.3 210.8C603.1 210.9 604.0 211.0 604.8 211.0C605.6 211.1 606.5 211.2 607.3 211.3C608.1 211.4 609.0 211.6 609.8 211.7C610.6 211.7 611.5 211.8 612.3 211.9C613.1 212.0 614.0 212.1 614.8 212.2C615.6 212.2 616.5 212.3 617.3 212.4C618.1 212.4 619.0 212.5 619.8 212.5C620.6 212.6 621.5 212.6 622.3 212.7C623.1 212.7 624.0 212.8 624.8 212.8C625.6 212.8 626.5 212.8 627.3 212.8C628.1 212.8 629.0 212.8 629.8 212.8C630.6 212.8 631.5 212.8 632.3 212.8C633.1 212.8 634.0 212.7 634.8 212.7C635.6 212.7 636.5 212.6 637.3 212.6C638.1 212.6 639.0 212.6 639.8 212.6C640.6 212.6 641.5 212.6 642.3 212.6C643.1 212.6 644.0 212.6 644.8 212.7C645.6 212.7 646.5 212.7 647.3 212.8C648.1 212.8 649.0 212.8 649.8 212.9C650.6 212.9 651.5 212.9 652.3 213.0C653.1 213.0 654.0 213.0 654.8 213.1C655.6 213.1 656.5 213.1 657.3 213.1C658.1 213.1 659.0 213.2 659.8 213.2C660.6 213.2 661.5 213.2 662.3 213.2C663.1 213.2 664.0 213.2 664.8 213.3C665.6 213.3 666.5 213.3 667.3 213.3C668.1 213.3 669.0 213.3 669.8 213.3C670.6 213.3 671.5 213.3 672.3 213.4C673.1 213.4 674.0 213.4 674.8 213.4C675.6 213.4 676.5 213.4 677.3 213.4C678.1 213.4 679.0 213.5 679.8 213.5C680.6 213.5 681.5 213.5 682.3 213.5C683.1 213.5 684.0 213.5 684.8 213.5C685.6 213.5 686.5 213.5 687.3 213.6C688.1 213.6 689.0 213.6 689.8 213.6C690.6 213.6 691.5 213.6 692.3 213.6C693.1 213.6 694.0 213.6 694.8 213.7C695.6 213.7 696.7 213.7 697.3 213.7C697.9 213.7 698.1 213.7 698.2 213.7" stroke="#a85814"/>
<path d="M399.80 219.60C400.2 219.6 401.5 219.5 402.3 219.5C403.1 219.4 404.0 219.4 404.8 219.3C405.6 219.3 406.5 219.2 407.3 219.2C408.1 219.1 409.0 219.1 409.8 219.0C410.6 219.0 411.5 218.9 412.3 218.9C413.1 218.8 414.0 218.8 414.8 218.7C415.6 218.7 416.6 218.6 417.3 218.5C418.1 218.5 418.9 218.4 419.3 218.4C419.7 218.4 419.6 218.4 419.8 218.3C420.0 218.3 420.1 218.2 420.3 218.1C420.5 218.0 420.6 217.7 420.8 217.6C421.0 217.5 421.1 217.4 421.3 217.4C421.5 217.4 421.6 217.6 421.8 217.7C422.0 217.8 422.1 218.0 422.3 218.1C422.5 218.1 422.6 218.1 422.8 218.1C423.0 218.1 423.0 218.1 423.3 218.1C423.6 218.1 424.1 218.0 424.8 218.0C425.5 217.9 426.5 217.8 427.3 217.8C428.1 217.7 429.0 217.6 429.8 217.5C430.6 217.4 431.5 217.3 432.3 217.2C433.1 217.1 434.0 217.0 434.8 216.8C435.6 216.7 436.5 216.5 437.3 216.3C438.1 216.2 439.0 216.0 439.8 215.8C440.6 215.6 441.5 215.4 442.3 215.1C443.1 214.9 444.0 214.6 444.8 214.3C445.6 214.0 446.5 213.7 447.3 213.4C448.1 213.0 449.0 212.6 449.8 212.2C450.6 211.8 451.5 211.4 452.3 210.9C453.1 210.5 454.0 210.0 454.8 209.5C455.6 209.0 456.5 208.5 457.3 208.0C458.1 207.6 459.0 207.1 459.8 206.7C460.6 206.3 461.5 205.9 462.3 205.5C463.1 205.1 464.0 204.7 464.8 204.3C465.6 203.9 466.5 203.5 467.3 203.1C468.1 202.6 469.0 202.2 469.8 201.6C470.6 201.0 471.5 200.4 472.3 199.6C473.1 198.8 474.0 197.9 474.8 197.0C475.6 196.2 476.5 195.4 477.3 194.6C478.1 193.9 479.0 193.2 479.8 192.5C480.6 191.9 481.5 191.2 482.3 190.9C483.1 190.5 484.0 190.2 484.8 190.2C485.6 190.2 486.5 190.4 487.3 190.8C488.1 191.1 489.0 191.7 489.8 192.3C490.6 192.9 491.5 193.6 492.3 194.5C493.1 195.3 494.0 196.3 494.8 197.3C495.6 198.3 496.5 199.5 497.3 200.5C498.1 201.6 499.0 202.7 499.8 203.7C500.6 204.8 501.5 205.9 502.3 206.9C503.1 207.9 504.0 208.9 504.8 209.8C505.6 210.6 506.5 211.4 507.3 212.1C508.1 212.8 509.0 213.3 509.8 213.9C510.6 214.4 511.5 214.9 512.3 215.3C513.1 215.8 514.0 216.1 514.8 216.5C515.6 216.8 516.5 217.1 517.3 217.4C518.1 217.6 519.0 217.9 519.8 218.1C520.6 218.3 521.5 218.5 522.3 218.6C523.1 218.8 524.0 218.9 524.8 219.1C525.6 219.2 526.5 219.3 527.3 219.4C528.1 219.5 529.0 219.6 529.8 219.6C530.6 219.7 531.5 219.8 532.3 219.8C533.1 219.9 534.0 219.9 534.8 220.0C535.6 220.0 536.5 220.0 537.3 220.1C538.1 220.1 539.0 220.1 539.8 220.1C540.6 220.1 541.5 220.1 542.3 220.2C543.1 220.2 544.0 220.2 544.8 220.2C545.6 220.2 546.5 220.2 547.3 220.2C548.1 220.2 549.0 220.2 549.8 220.2C550.6 220.2 551.5 220.1 552.3 220.1C553.1 220.1 554.0 220.1 554.8 220.1C555.6 220.1 556.5 220.1 557.3 220.0C558.1 220.0 559.0 220.0 559.8 220.0C560.6 220.0 561.5 219.9 562.3 219.9C563.1 219.9 564.0 219.9 564.8 219.8C565.6 219.8 566.5 219.8 567.3 219.8C568.1 219.7 569.0 219.7 569.8 219.7C570.6 219.7 571.5 219.6 572.3 219.6C573.1 219.6 574.0 219.5 574.8 219.5C575.6 219.5 576.5 219.4 577.3 219.4C578.1 219.3 579.0 219.3 579.8 219.2C580.6 219.2 581.5 219.1 582.3 219.0C583.1 219.0 584.0 218.9 584.8 218.9C585.6 218.8 586.5 218.7 587.3 218.6C588.1 218.6 589.0 218.5 589.8 218.4C590.6 218.3 591.5 218.2 592.3 218.1C593.1 218.0 594.0 218.0 594.8 217.9C595.6 217.8 596.5 217.8 597.3 217.7C598.1 217.7 599.0 217.7 599.8 217.7C600.6 217.7 601.5 217.7 602.3 217.7C603.1 217.8 604.0 217.8 604.8 217.9C605.6 218.0 606.5 218.1 607.3 218.2C608.1 218.2 609.0 218.3 609.8 218.4C610.6 218.5 611.5 218.6 612.3 218.6C613.1 218.7 614.0 218.8 614.8 218.8C615.6 218.9 616.5 218.9 617.3 219.0C618.1 219.0 619.0 219.1 619.8 219.1C620.6 219.2 621.5 219.2 622.3 219.2C623.1 219.2 624.0 219.2 624.8 219.2C625.6 219.2 626.5 219.2 627.3 219.2C628.1 219.2 629.0 219.1 629.8 219.1C630.6 219.0 631.5 218.9 632.3 218.8C633.1 218.8 634.0 218.7 634.8 218.6C635.6 218.5 636.5 218.4 637.3 218.4C638.1 218.3 639.0 218.2 639.8 218.2C640.6 218.1 641.5 218.1 642.3 218.1C643.1 218.1 644.0 218.1 644.8 218.1C645.6 218.1 646.5 218.1 647.3 218.1C648.1 218.2 649.0 218.2 649.8 218.2C650.6 218.3 651.5 218.3 652.3 218.3C653.1 218.3 654.0 218.3 654.8 218.4C655.6 218.4 656.5 218.4 657.3 218.4C658.1 218.4 659.0 218.4 659.8 218.4C660.6 218.4 661.5 218.4 662.3 218.4C663.1 218.5 664.0 218.5 664.8 218.5C665.6 218.5 666.5 218.5 667.3 218.5C668.1 218.5 669.0 218.5 669.8 218.5C670.6 218.5 671.5 218.5 672.3 218.5C673.1 218.5 674.0 218.5 674.8 218.5C675.6 218.5 676.5 218.5 677.3 218.5C678.1 218.5 679.0 218.5 679.8 218.5C680.6 218.5 681.5 218.5 682.3 218.5C683.1 218.5 684.0 218.5 684.8 218.6C685.6 218.6 686.5 218.6 687.3 218.6C688.1 218.6 689.0 218.6 689.8 218.6C690.6 218.6 691.5 218.6 692.3 218.6C693.1 218.6 694.0 218.6 694.8 218.6C695.6 218.6 696.7 218.6 697.3 218.6C697.9 218.6 698.1 218.6 698.2 218.6" stroke="#e0700f"/>
</g>
<g fill="none" stroke-linejoin="round">
<path d="M567.40 107.63C567.7 107.6 568.7 107.4 569.4 107.3C570.1 107.1 570.7 107.0 571.4 106.8C572.1 106.7 572.7 106.6 573.4 106.4C574.1 106.3 574.7 106.1 575.4 106.0C576.1 105.9 576.7 105.7 577.4 105.6C578.1 105.4 578.7 105.3 579.4 105.1C580.1 104.9 580.7 104.8 581.4 104.6C582.1 104.5 582.7 104.3 583.4 104.1C584.1 104.0 584.7 103.8 585.4 103.6C586.1 103.4 586.7 103.3 587.4 103.0C588.1 102.8 588.7 102.6 589.4 102.2C590.1 101.9 590.7 101.6 591.4 101.0C592.1 100.5 592.7 99.8 593.4 98.9C594.1 98.0 594.7 97.0 595.4 95.8C596.1 94.6 596.7 93.0 597.4 91.6C598.1 90.1 598.7 88.6 599.4 87.1C600.1 85.6 600.7 84.0 601.4 82.4C602.1 80.8 602.7 79.4 603.4 77.8C604.1 76.2 604.7 74.5 605.4 72.7C606.1 70.8 606.7 69.1 607.4 66.7C608.1 64.3 608.7 61.4 609.4 58.3C610.1 55.2 610.7 51.0 611.4 47.9C612.1 44.9 612.7 42.1 613.4 39.8C614.1 37.6 614.7 35.7 615.4 34.6C616.1 33.6 616.7 33.2 617.4 33.5C618.1 33.8 618.7 34.8 619.4 36.4C620.1 38.1 620.7 40.6 621.4 43.5C622.1 46.3 622.7 50.8 623.4 53.5C624.1 56.3 624.7 57.6 625.4 60.0C626.1 62.4 626.7 65.2 627.4 67.7C628.1 70.2 628.7 72.9 629.4 75.1C630.1 77.3 630.7 79.1 631.4 80.9C632.1 82.8 632.7 84.5 633.4 86.3C634.1 88.0 634.7 89.9 635.4 91.6C636.1 93.3 636.7 95.2 637.4 96.7C638.1 98.2 638.7 99.6 639.4 100.7C640.1 101.8 640.7 102.6 641.4 103.4C642.1 104.2 642.7 104.8 643.4 105.4C644.1 106.0 644.7 106.5 645.4 106.9C646.1 107.3 646.7 107.6 647.4 107.9C648.1 108.2 648.7 108.3 649.4 108.6C650.1 108.8 650.7 108.9 651.4 109.1C652.1 109.2 652.7 109.4 653.4 109.6C654.1 109.7 654.7 109.8 655.4 109.9C656.1 110.0 656.7 110.1 657.4 110.2C658.1 110.3 658.7 110.4 659.4 110.4C660.1 110.5 660.7 110.5 661.4 110.6C662.1 110.6 662.7 110.7 663.4 110.7C664.1 110.7 664.7 110.7 665.4 110.7C666.1 110.8 666.7 110.8 667.4 110.7C668.1 110.7 668.7 110.7 669.4 110.7C670.1 110.6 670.7 110.5 671.4 110.4C672.1 110.3 672.7 110.1 673.4 109.9C674.1 109.7 674.7 109.5 675.4 109.3C676.1 109.1 676.7 109.0 677.4 108.8C678.1 108.7 678.7 108.5 679.4 108.4C680.1 108.3 680.7 108.1 681.4 108.0C682.1 107.9 682.7 107.7 683.4 107.6C684.1 107.6 684.7 107.7 685.4 107.9C686.1 108.0 686.7 108.3 687.4 108.6C688.1 108.8 688.7 109.1 689.4 109.4C690.1 109.6 690.7 109.9 691.4 110.1C692.1 110.4 692.7 110.6 693.4 110.9C694.1 111.1 694.7 111.4 695.4 111.6C696.1 111.9 697.1 112.3 697.4 112.4" stroke="#8a8a8a" stroke-width="0.7"/>
<path d="M567.40 108.37C567.7 108.3 568.7 108.1 569.4 108.0C570.1 107.8 570.7 107.7 571.4 107.5C572.1 107.4 572.7 107.3 573.4 107.1C574.1 107.0 574.7 106.8 575.4 106.7C576.1 106.6 576.7 106.4 577.4 106.3C578.1 106.1 578.7 106.0 579.4 105.8C580.1 105.7 580.7 105.5 581.4 105.4C582.1 105.2 582.7 105.1 583.4 104.9C584.1 104.8 584.7 104.6 585.4 104.4C586.1 104.3 586.7 104.1 587.4 103.9C588.1 103.7 588.7 103.4 589.4 103.1C590.1 102.8 590.7 102.5 591.4 102.0C592.1 101.5 592.7 100.9 593.4 100.1C594.1 99.3 594.7 98.4 595.4 97.4C596.1 96.3 596.7 95.0 597.4 93.7C598.1 92.5 598.7 91.1 599.4 89.8C600.1 88.4 600.7 87.0 601.4 85.6C602.1 84.2 602.7 83.0 603.4 81.5C604.1 80.1 604.7 78.6 605.4 76.9C606.1 75.2 606.7 73.6 607.4 71.4C608.1 69.2 608.7 66.6 609.4 63.5C610.1 60.5 610.7 56.0 611.4 52.9C612.1 49.9 612.7 47.4 613.4 45.3C614.1 43.2 614.7 41.3 615.4 40.1C616.1 39.0 616.7 38.3 617.4 38.2C618.1 38.2 618.7 38.8 619.4 39.9C620.1 41.0 620.7 42.8 621.4 44.9C622.1 46.9 622.7 50.2 623.4 52.3C624.1 54.4 624.7 55.4 625.4 57.2C626.1 59.1 626.7 61.3 627.4 63.3C628.1 65.4 628.7 67.5 629.4 69.4C630.1 71.3 630.7 73.0 631.4 74.7C632.1 76.5 632.7 78.1 633.4 80.0C634.1 81.8 634.7 83.9 635.4 85.9C636.1 87.9 636.7 90.1 637.4 92.0C638.1 93.8 638.7 95.5 639.4 96.8C640.1 98.2 640.7 99.2 641.4 100.1C642.1 101.1 642.7 101.9 643.4 102.6C644.1 103.3 644.7 103.9 645.4 104.4C646.1 104.9 646.7 105.3 647.4 105.6C648.1 106.0 648.7 106.3 649.4 106.5C650.1 106.8 650.7 107.0 651.4 107.2C652.1 107.4 652.7 107.6 653.4 107.8C654.1 108.0 654.7 108.2 655.4 108.3C656.1 108.5 656.7 108.6 657.4 108.7C658.1 108.9 658.7 109.0 659.4 109.1C660.1 109.1 660.7 109.2 661.4 109.3C662.1 109.3 662.7 109.4 663.4 109.4C664.1 109.5 664.7 109.5 665.4 109.6C666.1 109.6 666.7 109.6 667.4 109.6C668.1 109.6 668.7 109.7 669.4 109.6C670.1 109.6 670.7 109.6 671.4 109.5C672.1 109.4 672.7 109.3 673.4 109.2C674.1 109.0 674.7 108.9 675.4 108.8C676.1 108.7 676.7 108.6 677.4 108.5C678.1 108.4 678.7 108.3 679.4 108.2C680.1 108.1 680.7 108.0 681.4 107.9C682.1 107.8 682.7 107.6 683.4 107.6C684.1 107.6 684.7 107.7 685.4 107.9C686.1 108.0 686.7 108.3 687.4 108.6C688.1 108.8 688.7 109.1 689.4 109.4C690.1 109.6 690.7 109.9 691.4 110.1C692.1 110.4 692.7 110.6 693.4 110.9C694.1 111.1 694.7 111.4 695.4 111.6C696.1 111.9 697.1 112.3 697.4 112.4" stroke="#8a8a8a" stroke-width="0.7"/>
<path d="M567.40 108.41C567.7 108.4 568.7 108.2 569.4 108.0C570.1 107.9 570.7 107.8 571.4 107.7C572.1 107.5 572.7 107.4 573.4 107.3C574.1 107.1 574.7 107.0 575.4 106.9C576.1 106.8 576.7 106.6 577.4 106.5C578.1 106.4 578.7 106.2 579.4 106.1C580.1 105.9 580.7 105.8 581.4 105.7C582.1 105.5 582.7 105.4 583.4 105.3C584.1 105.1 584.7 105.0 585.4 104.8C586.1 104.7 586.7 104.5 587.4 104.3C588.1 104.1 588.7 103.9 589.4 103.6C590.1 103.3 590.7 103.0 591.4 102.6C592.1 102.1 592.7 101.6 593.4 100.9C594.1 100.2 594.7 99.5 595.4 98.5C596.1 97.6 596.7 96.5 597.4 95.4C598.1 94.2 598.7 93.1 599.4 91.9C600.1 90.7 600.7 89.4 601.4 88.2C602.1 87.0 602.7 85.8 603.4 84.5C604.1 83.2 604.7 81.9 605.4 80.3C606.1 78.8 606.7 77.3 607.4 75.2C608.1 73.2 608.7 70.9 609.4 67.9C610.1 64.8 610.7 60.1 611.4 57.1C612.1 54.1 612.7 51.9 613.4 49.8C614.1 47.7 614.7 46.0 615.4 44.7C616.1 43.4 616.7 42.5 617.4 42.2C618.1 41.9 618.7 42.1 619.4 42.7C620.1 43.4 620.7 44.6 621.4 46.0C622.1 47.4 622.7 49.7 623.4 51.2C624.1 52.7 624.7 53.5 625.4 54.9C626.1 56.3 626.7 58.0 627.4 59.6C628.1 61.2 628.7 62.9 629.4 64.6C630.1 66.2 630.7 67.8 631.4 69.5C632.1 71.2 632.7 72.7 633.4 74.7C634.1 76.6 634.7 78.8 635.4 81.0C636.1 83.2 636.7 85.8 637.4 87.9C638.1 90.0 638.7 92.0 639.4 93.6C640.1 95.2 640.7 96.3 641.4 97.4C642.1 98.5 642.7 99.4 643.4 100.2C644.1 101.0 644.7 101.7 645.4 102.3C646.1 102.9 646.7 103.3 647.4 103.8C648.1 104.2 648.7 104.5 649.4 104.8C650.1 105.1 650.7 105.4 651.4 105.6C652.1 105.9 652.7 106.1 653.4 106.4C654.1 106.6 654.7 106.8 655.4 107.0C656.1 107.2 656.7 107.3 657.4 107.5C658.1 107.6 658.7 107.8 659.4 107.9C660.1 108.0 660.7 108.1 661.4 108.1C662.1 108.2 662.7 108.3 663.4 108.4C664.1 108.4 664.7 108.5 665.4 108.6C666.1 108.6 666.7 108.7 667.4 108.7C668.1 108.7 668.7 108.8 669.4 108.8C670.1 108.8 670.7 108.8 671.4 108.7C672.1 108.7 672.7 108.6 673.4 108.5C674.1 108.5 674.7 108.4 675.4 108.3C676.1 108.2 676.7 108.2 677.4 108.1C678.1 108.1 678.7 108.0 679.4 108.0C680.1 107.9 680.7 107.8 681.4 107.8C682.1 107.7 682.7 107.6 683.4 107.6C684.1 107.7 684.7 107.7 685.4 107.9C686.1 108.0 686.7 108.3 687.4 108.6C688.1 108.8 688.7 109.1 689.4 109.4C690.1 109.6 690.7 109.9 691.4 110.1C692.1 110.4 692.7 110.6 693.4 110.9C694.1 111.1 694.7 111.4 695.4 111.6C696.1 111.9 697.1 112.3 697.4 112.4" stroke="#8a8a8a" stroke-width="0.7"/>
<path d="M567.40 108.17C567.7 108.1 568.7 108.0 569.4 107.8C570.1 107.7 570.7 107.6 571.4 107.5C572.1 107.4 572.7 107.3 573.4 107.1C574.1 107.0 574.7 106.9 575.4 106.8C576.1 106.7 576.7 106.6 577.4 106.4C578.1 106.3 578.7 106.2 579.4 106.1C580.1 106.0 580.7 105.8 581.4 105.7C582.1 105.6 582.7 105.5 583.4 105.4C584.1 105.2 584.7 105.1 585.4 105.0C586.1 104.8 586.7 104.7 587.4 104.5C588.1 104.3 588.7 104.1 589.4 103.8C590.1 103.5 590.7 103.3 591.4 102.9C592.1 102.4 592.7 101.9 593.4 101.3C594.1 100.7 594.7 100.0 595.4 99.2C596.1 98.3 596.7 97.3 597.4 96.3C598.1 95.3 598.7 94.2 599.4 93.1C600.1 92.0 600.7 90.9 601.4 89.7C602.1 88.6 602.7 87.5 603.4 86.3C604.1 85.1 604.7 83.9 605.4 82.4C606.1 81.0 606.7 79.6 607.4 77.6C608.1 75.6 608.7 73.5 609.4 70.5C610.1 67.5 610.7 62.6 611.4 59.6C612.1 56.6 612.7 54.6 613.4 52.6C614.1 50.5 614.7 48.8 615.4 47.5C616.1 46.2 616.7 45.1 617.4 44.6C618.1 44.1 618.7 44.2 619.4 44.5C620.1 44.8 620.7 45.6 621.4 46.6C622.1 47.6 622.7 49.3 623.4 50.5C624.1 51.6 624.7 52.2 625.4 53.4C626.1 54.5 626.7 55.9 627.4 57.2C628.1 58.6 628.7 60.0 629.4 61.5C630.1 63.0 630.7 64.6 631.4 66.2C632.1 67.8 632.7 69.3 633.4 71.3C634.1 73.3 634.7 75.6 635.4 78.0C636.1 80.3 636.7 83.1 637.4 85.4C638.1 87.6 638.7 89.8 639.4 91.5C640.1 93.3 640.7 94.5 641.4 95.7C642.1 96.8 642.7 97.8 643.4 98.7C644.1 99.6 644.7 100.3 645.4 100.9C646.1 101.6 646.7 102.1 647.4 102.6C648.1 103.0 648.7 103.4 649.4 103.7C650.1 104.1 650.7 104.4 651.4 104.6C652.1 104.9 652.7 105.2 653.4 105.4C654.1 105.7 654.7 105.9 655.4 106.1C656.1 106.3 656.7 106.5 657.4 106.7C658.1 106.8 658.7 107.0 659.4 107.1C660.1 107.2 660.7 107.3 661.4 107.4C662.1 107.5 662.7 107.6 663.4 107.7C664.1 107.8 664.7 107.8 665.4 107.9C666.1 108.0 666.7 108.0 667.4 108.1C668.1 108.2 668.7 108.2 669.4 108.2C670.1 108.3 670.7 108.3 671.4 108.2C672.1 108.2 672.7 108.2 673.4 108.2C674.1 108.1 674.7 108.1 675.4 108.0C676.1 108.0 676.7 108.0 677.4 107.9C678.1 107.9 678.7 107.9 679.4 107.8C680.1 107.8 680.7 107.7 681.4 107.7C682.1 107.7 682.7 107.6 683.4 107.6C684.1 107.7 684.7 107.7 685.4 107.9C686.1 108.0 686.7 108.3 687.4 108.6C688.1 108.8 688.7 109.1 689.4 109.4C690.1 109.6 690.7 109.9 691.4 110.1C692.1 110.4 692.7 110.6 693.4 110.9C694.1 111.1 694.7 111.4 695.4 111.6C696.1 111.9 697.1 112.3 697.4 112.4" stroke="#8a8a8a" stroke-width="0.7"/>
<path d="M567.40 107.75C567.7 107.7 568.7 107.6 569.4 107.5C570.1 107.4 570.7 107.3 571.4 107.2C572.1 107.1 572.7 107.0 573.4 106.9C574.1 106.8 574.7 106.7 575.4 106.6C576.1 106.5 576.7 106.4 577.4 106.3C578.1 106.2 578.7 106.1 579.4 106.0C580.1 105.9 580.7 105.7 581.4 105.6C582.1 105.5 582.7 105.4 583.4 105.3C584.1 105.2 584.7 105.1 585.4 105.0C586.1 104.9 586.7 104.7 587.4 104.6C588.1 104.4 588.7 104.2 589.4 103.9C590.1 103.7 590.7 103.4 591.4 103.0C592.1 102.7 592.7 102.2 593.4 101.7C594.1 101.1 594.7 100.5 595.4 99.7C596.1 99.0 596.7 98.1 597.4 97.2C598.1 96.3 598.7 95.3 599.4 94.3C600.1 93.3 600.7 92.2 601.4 91.2C602.1 90.2 602.7 89.2 603.4 88.0C604.1 86.9 604.7 85.8 605.4 84.5C606.1 83.1 606.7 81.8 607.4 79.9C608.1 78.0 608.7 76.1 609.4 73.1C610.1 70.1 610.7 65.1 611.4 62.1C612.1 59.1 612.7 57.3 613.4 55.3C614.1 53.3 614.7 51.7 615.4 50.3C616.1 48.9 616.7 47.7 617.4 47.0C618.1 46.3 618.7 46.2 619.4 46.2C620.1 46.3 620.7 46.7 621.4 47.3C622.1 47.8 622.7 49.0 623.4 49.7C624.1 50.5 624.7 51.0 625.4 51.8C626.1 52.7 626.7 53.7 627.4 54.8C628.1 55.9 628.7 57.1 629.4 58.4C630.1 59.8 630.7 61.3 631.4 62.9C632.1 64.5 632.7 65.9 633.4 68.0C634.1 70.0 634.7 72.4 635.4 74.9C636.1 77.4 636.7 80.4 637.4 82.8C638.1 85.2 638.7 87.6 639.4 89.5C640.1 91.3 640.7 92.6 641.4 93.9C642.1 95.2 642.7 96.2 643.4 97.2C644.1 98.1 644.7 98.9 645.4 99.6C646.1 100.3 646.7 100.8 647.4 101.3C648.1 101.9 648.7 102.2 649.4 102.6C650.1 103.0 650.7 103.3 651.4 103.6C652.1 104.0 652.7 104.2 653.4 104.5C654.1 104.8 654.7 105.0 655.4 105.3C656.1 105.5 656.7 105.7 657.4 105.9C658.1 106.1 658.7 106.2 659.4 106.4C660.1 106.5 660.7 106.6 661.4 106.7C662.1 106.8 662.7 106.9 663.4 107.0C664.1 107.1 664.7 107.2 665.4 107.3C666.1 107.4 666.7 107.4 667.4 107.5C668.1 107.6 668.7 107.6 669.4 107.7C670.1 107.7 670.7 107.8 671.4 107.8C672.1 107.8 672.7 107.8 673.4 107.8C674.1 107.8 674.7 107.7 675.4 107.7C676.1 107.7 676.7 107.7 677.4 107.7C678.1 107.7 678.7 107.7 679.4 107.7C680.1 107.7 680.7 107.7 681.4 107.7C682.1 107.6 682.7 107.6 683.4 107.6C684.1 107.7 684.7 107.7 685.4 107.9C686.1 108.0 686.7 108.3 687.4 108.6C688.1 108.8 688.7 109.1 689.4 109.4C690.1 109.6 690.7 109.9 691.4 110.1C692.1 110.4 692.7 110.6 693.4 110.9C694.1 111.1 694.7 111.4 695.4 111.6C696.1 111.9 697.1 112.3 697.4 112.4" stroke="#8a8a8a" stroke-width="0.7"/>
<path d="M567.40 107.21C567.7 107.2 568.7 107.1 569.4 107.0C570.1 106.9 570.7 106.8 571.4 106.8C572.1 106.7 572.7 106.6 573.4 106.5C574.1 106.4 574.7 106.4 575.4 106.3C576.1 106.2 576.7 106.1 577.4 106.0C578.1 105.9 578.7 105.9 579.4 105.8C580.1 105.7 580.7 105.6 581.4 105.5C582.1 105.4 582.7 105.3 583.4 105.3C584.1 105.2 584.7 105.1 585.4 105.0C586.1 104.9 586.7 104.8 587.4 104.6C588.1 104.4 588.7 104.2 589.4 104.0C590.1 103.8 590.7 103.5 591.4 103.2C592.1 102.9 592.7 102.5 593.4 102.0C594.1 101.5 594.7 100.9 595.4 100.3C596.1 99.6 596.7 98.8 597.4 98.0C598.1 97.2 598.7 96.3 599.4 95.4C600.1 94.6 600.7 93.6 601.4 92.7C602.1 91.7 602.7 90.8 603.4 89.8C604.1 88.7 604.7 87.8 605.4 86.5C606.1 85.2 606.7 84.0 607.4 82.2C608.1 80.4 608.7 78.7 609.4 75.7C610.1 72.8 610.7 67.5 611.4 64.6C612.1 61.6 612.7 59.9 613.4 58.0C614.1 56.1 614.7 54.5 615.4 53.0C616.1 51.6 616.7 50.2 617.4 49.4C618.1 48.5 618.7 48.2 619.4 47.9C620.1 47.7 620.7 47.7 621.4 47.9C622.1 48.1 622.7 48.6 623.4 49.0C624.1 49.4 624.7 49.7 625.4 50.3C626.1 50.9 626.7 51.6 627.4 52.4C628.1 53.3 628.7 54.2 629.4 55.4C630.1 56.5 630.7 58.0 631.4 59.6C632.1 61.1 632.7 62.5 633.4 64.6C634.1 66.6 634.7 69.2 635.4 71.8C636.1 74.5 636.7 77.7 637.4 80.2C638.1 82.8 638.7 85.4 639.4 87.4C640.1 89.4 640.7 90.8 641.4 92.2C642.1 93.5 642.7 94.6 643.4 95.6C644.1 96.6 644.7 97.5 645.4 98.2C646.1 99.0 646.7 99.6 647.4 100.1C648.1 100.7 648.7 101.1 649.4 101.5C650.1 101.9 650.7 102.3 651.4 102.6C652.1 103.0 652.7 103.3 653.4 103.6C654.1 103.9 654.7 104.1 655.4 104.4C656.1 104.6 656.7 104.9 657.4 105.1C658.1 105.3 658.7 105.4 659.4 105.6C660.1 105.8 660.7 105.9 661.4 106.0C662.1 106.1 662.7 106.2 663.4 106.3C664.1 106.4 664.7 106.5 665.4 106.6C666.1 106.7 666.7 106.8 667.4 106.9C668.1 107.0 668.7 107.1 669.4 107.1C670.1 107.2 670.7 107.2 671.4 107.3C672.1 107.3 672.7 107.3 673.4 107.4C674.1 107.4 674.7 107.4 675.4 107.4C676.1 107.4 676.7 107.5 677.4 107.5C678.1 107.5 678.7 107.5 679.4 107.6C680.1 107.6 680.7 107.6 681.4 107.6C682.1 107.6 682.7 107.6 683.4 107.6C684.1 107.7 684.7 107.7 685.4 107.9C686.1 108.0 686.7 108.3 687.4 108.6C688.1 108.8 688.7 109.1 689.4 109.4C690.1 109.6 690.7 109.9 691.4 110.1C692.1 110.4 692.7 110.6 693.4 110.9C694.1 111.1 694.7 111.4 695.4 111.6C696.1 111.9 697.1 112.3 697.4 112.4" stroke="#8a8a8a" stroke-width="0.7"/>
<path d="M567.80 105.90C568.0 105.9 568.8 105.7 569.3 105.6C569.8 105.5 570.3 105.4 570.8 105.4C571.3 105.3 571.8 105.2 572.3 105.1C572.8 105.0 573.3 104.9 573.8 104.8C574.3 104.7 574.8 104.6 575.3 104.5C575.8 104.4 576.3 104.3 576.8 104.2C577.3 104.1 577.8 104.0 578.3 103.9C578.8 103.8 579.3 103.7 579.8 103.6C580.3 103.5 580.8 103.3 581.3 103.2C581.8 103.1 582.3 103.0 582.8 102.8C583.3 102.7 583.8 102.6 584.3 102.5C584.8 102.3 585.3 102.2 585.8 102.0C586.3 101.9 586.8 101.7 587.3 101.6C587.8 101.4 588.3 101.2 588.8 101.0C589.3 100.7 589.8 100.5 590.3 100.1C590.8 99.8 591.3 99.4 591.8 98.9C592.3 98.4 592.8 97.7 593.3 97.0C593.8 96.3 594.3 95.4 594.8 94.4C595.3 93.5 595.8 92.4 596.3 91.2C596.8 90.1 597.3 88.8 597.8 87.5C598.3 86.2 598.8 84.9 599.3 83.6C599.8 82.3 600.3 80.9 600.8 79.6C601.3 78.3 601.8 77.0 602.3 75.6C602.8 74.3 603.3 73.0 603.8 71.6C604.3 70.1 604.8 68.7 605.3 67.2C605.8 65.6 606.3 64.1 606.8 62.3C607.3 60.5 607.8 58.5 608.3 56.3C608.8 54.1 609.3 51.7 609.8 49.2C610.3 46.8 610.8 44.2 611.3 41.8C611.8 39.5 612.3 37.0 612.8 35.0C613.3 33.1 613.8 31.3 614.3 30.0C614.8 28.7 615.3 27.6 615.8 27.1C616.3 26.7 616.8 26.8 617.3 27.3C617.8 27.8 618.3 28.9 618.8 30.2C619.3 31.6 619.8 33.2 620.3 35.6C620.8 38.0 621.3 41.4 621.8 44.5C622.3 47.6 622.8 51.3 623.3 54.1C623.8 56.9 624.3 59.0 624.8 61.2C625.3 63.4 625.8 65.1 626.3 67.4C626.8 69.8 627.3 73.0 627.8 75.5C628.3 77.9 628.8 80.1 629.3 82.0C629.8 84.0 630.3 85.5 630.8 87.0C631.3 88.6 631.8 90.1 632.3 91.5C632.8 92.9 633.3 94.1 633.8 95.3C634.3 96.5 634.8 97.7 635.3 98.8C635.8 99.8 636.3 100.9 636.8 101.8C637.3 102.7 637.8 103.5 638.3 104.2C638.8 104.9 639.3 105.4 639.8 106.0C640.3 106.5 640.8 107.0 641.3 107.4C641.8 107.9 642.3 108.3 642.8 108.6C643.3 108.9 643.8 109.2 644.3 109.5C644.8 109.8 645.3 110.0 645.8 110.2C646.3 110.4 646.8 110.6 647.3 110.7C647.8 110.8 648.3 110.9 648.8 111.0C649.3 111.1 649.8 111.2 650.3 111.3C650.8 111.4 651.3 111.5 651.8 111.5C652.3 111.6 652.8 111.7 653.3 111.8C653.8 111.8 654.3 111.9 654.8 111.9C655.3 112.0 655.8 112.0 656.3 112.1C656.8 112.1 657.3 112.1 657.8 112.2C658.3 112.2 658.8 112.2 659.3 112.2C659.8 112.3 660.3 112.3 660.8 112.3C661.3 112.3 661.8 112.3 662.3 112.3C662.8 112.3 663.3 112.3 663.8 112.3C664.3 112.3 664.8 112.3 665.3 112.3C665.8 112.3 666.3 112.2 666.8 112.2C667.3 112.2 667.8 112.1 668.3 112.1C668.8 112.0 669.3 111.9 669.8 111.8C670.3 111.7 670.8 111.6 671.3 111.5C671.8 111.4 672.3 111.2 672.8 111.0C673.3 110.9 673.8 110.7 674.3 110.5C674.8 110.3 675.3 110.1 675.8 109.9C676.3 109.7 676.8 109.6 677.3 109.4C677.8 109.2 678.3 109.1 678.8 108.9C679.3 108.7 679.8 108.6 680.3 108.5C680.8 108.3 681.3 108.2 681.8 108.1C682.3 108.0 682.8 107.9 683.3 107.8C683.8 107.8 684.3 107.8 684.8 107.9C685.3 108.0 685.8 108.1 686.3 108.2C686.8 108.4 687.3 108.6 687.8 108.7C688.3 108.9 688.8 109.1 689.3 109.3C689.8 109.5 690.3 109.7 690.8 109.9C691.3 110.1 691.8 110.3 692.3 110.5C692.8 110.6 693.3 110.8 693.8 111.0C694.3 111.2 694.8 111.4 695.3 111.6C695.8 111.8 696.3 112.0 696.8 112.2C697.3 112.3 698.0 112.6 698.2 112.7" stroke="#0a0a14" stroke-width="2.1"/>
<path d="M567.80 106.60C568.0 106.6 568.8 106.5 569.3 106.5C569.8 106.4 570.3 106.4 570.8 106.3C571.3 106.3 571.8 106.2 572.3 106.2C572.8 106.2 573.3 106.1 573.8 106.1C574.3 106.0 574.8 106.0 575.3 105.9C575.8 105.9 576.3 105.8 576.8 105.8C577.3 105.7 577.8 105.7 578.3 105.6C578.8 105.6 579.3 105.5 579.8 105.5C580.3 105.4 580.8 105.4 581.3 105.3C581.8 105.3 582.3 105.2 582.8 105.2C583.3 105.1 583.8 105.1 584.3 105.0C584.8 105.0 585.3 104.9 585.8 104.8C586.3 104.8 586.8 104.7 587.3 104.6C587.8 104.5 588.3 104.3 588.8 104.2C589.3 104.1 589.8 103.9 590.3 103.7C590.8 103.5 591.3 103.3 591.8 103.1C592.3 102.8 592.8 102.5 593.3 102.2C593.8 101.9 594.3 101.6 594.8 101.2C595.3 100.8 595.8 100.4 596.3 99.9C596.8 99.4 597.3 98.9 597.8 98.4C598.3 97.8 598.8 97.2 599.3 96.7C599.8 96.1 600.3 95.5 600.8 94.8C601.3 94.2 601.8 93.6 602.3 92.9C602.8 92.3 603.3 91.6 603.8 90.9C604.3 90.1 604.8 89.4 605.3 88.6C605.8 87.7 606.3 86.8 606.8 85.7C607.3 84.6 607.8 83.4 608.3 81.8C608.8 80.2 609.3 78.4 609.8 76.1C610.3 73.8 610.8 70.5 611.3 68.2C611.8 65.9 612.3 64.0 612.8 62.4C613.3 60.8 613.8 59.7 614.3 58.5C614.8 57.3 615.3 56.0 615.8 54.9C616.3 53.9 616.8 52.8 617.3 52.1C617.8 51.3 618.3 50.7 618.8 50.2C619.3 49.7 619.8 49.4 620.3 49.1C620.8 48.8 621.3 48.6 621.8 48.4C622.3 48.3 622.8 48.2 623.3 48.3C623.8 48.3 624.3 48.4 624.8 48.6C625.3 48.7 625.8 49.0 626.3 49.3C626.8 49.6 627.3 49.9 627.8 50.4C628.3 50.9 628.8 51.5 629.3 52.3C629.8 53.0 630.3 54.0 630.8 55.0C631.3 56.1 631.8 57.2 632.3 58.5C632.8 59.8 633.3 61.1 633.8 62.7C634.3 64.4 634.8 66.4 635.3 68.4C635.8 70.5 636.3 72.8 636.8 74.9C637.3 77.0 637.8 79.2 638.3 81.1C638.8 83.0 639.3 84.7 639.8 86.2C640.3 87.6 640.8 88.8 641.3 90.0C641.8 91.1 642.3 92.0 642.8 92.9C643.3 93.8 643.8 94.6 644.3 95.3C644.8 96.0 645.3 96.6 645.8 97.2C646.3 97.8 646.8 98.3 647.3 98.7C647.8 99.2 648.3 99.6 648.8 99.9C649.3 100.3 649.8 100.6 650.3 100.9C650.8 101.3 651.3 101.5 651.8 101.8C652.3 102.1 652.8 102.3 653.3 102.6C653.8 102.8 654.3 103.0 654.8 103.2C655.3 103.5 655.8 103.7 656.3 103.8C656.8 104.0 657.3 104.2 657.8 104.4C658.3 104.5 658.8 104.7 659.3 104.8C659.8 104.9 660.3 105.0 660.8 105.1C661.3 105.3 661.8 105.4 662.3 105.5C662.8 105.5 663.3 105.6 663.8 105.7C664.3 105.8 664.8 105.9 665.3 106.0C665.8 106.0 666.3 106.1 666.8 106.2C667.3 106.3 667.8 106.3 668.3 106.4C668.8 106.5 669.3 106.5 669.8 106.6C670.3 106.7 670.8 106.7 671.3 106.8C671.8 106.8 672.3 106.9 672.8 106.9C673.3 107.0 673.8 107.0 674.3 107.0C674.8 107.1 675.3 107.1 675.8 107.2C676.3 107.2 676.8 107.2 677.3 107.3C677.8 107.3 678.3 107.3 678.8 107.4C679.3 107.4 679.8 107.4 680.3 107.5C680.8 107.5 681.3 107.5 681.8 107.5C682.3 107.6 682.8 107.6 683.3 107.7C683.8 107.7 684.3 107.8 684.8 107.9C685.3 108.0 685.8 108.1 686.3 108.2C686.8 108.4 687.3 108.6 687.8 108.7C688.3 108.9 688.8 109.1 689.3 109.3C689.8 109.5 690.3 109.7 690.8 109.9C691.3 110.1 691.8 110.3 692.3 110.5C692.8 110.6 693.3 110.8 693.8 111.0C694.3 111.2 694.8 111.4 695.3 111.6C695.8 111.8 696.3 112.0 696.8 112.2C697.3 112.3 698.0 112.6 698.2 112.7" stroke="#1010e0" stroke-width="2.0"/>
</g>
<g stroke="#333" stroke-width="0.9" fill="#333">
<line x1="603.4" y1="23.8" x2="603.4" y2="60"/><path d="M602.4 58L603.4 61.2L604.4 58Z"/>
<line x1="643" y1="87.1" x2="643" y2="53"/><path d="M642 55L643 51.8L644 55Z"/>
</g>
<g stroke="#4d4d4d" stroke-width="1.2" fill="none">
<path d="M399.80 229.70 V20.80 H698.20 V229.70"/>
<line x1="399.20" y1="229.40" x2="698.80" y2="229.40" stroke="#333" stroke-width="1.0"/>
<line x1="399.80" y1="229.20" x2="399.80" y2="233.70"/>
<line x1="429.64" y1="229.20" x2="429.64" y2="231.70"/>
<line x1="459.48" y1="229.20" x2="459.48" y2="233.70"/>
<line x1="489.32" y1="229.20" x2="489.32" y2="231.70"/>
<line x1="519.16" y1="229.20" x2="519.16" y2="233.70"/>
<line x1="549.00" y1="229.20" x2="549.00" y2="231.70"/>
<line x1="578.84" y1="229.20" x2="578.84" y2="233.70"/>
<line x1="608.68" y1="229.20" x2="608.68" y2="231.70"/>
<line x1="638.52" y1="229.20" x2="638.52" y2="233.70"/>
<line x1="668.36" y1="229.20" x2="668.36" y2="231.70"/>
<line x1="698.20" y1="229.20" x2="698.20" y2="233.70"/>
<line x1="399.80" y1="226.30" x2="395.30" y2="226.30"/>
<line x1="399.80" y1="209.18" x2="397.30" y2="209.18"/>
<line x1="399.80" y1="192.06" x2="395.30" y2="192.06"/>
<line x1="399.80" y1="174.94" x2="397.30" y2="174.94"/>
<line x1="399.80" y1="157.82" x2="395.30" y2="157.82"/>
<line x1="399.80" y1="140.70" x2="397.30" y2="140.70"/>
<line x1="399.80" y1="123.58" x2="395.30" y2="123.58"/>
<line x1="399.80" y1="106.46" x2="397.30" y2="106.46"/>
<line x1="399.80" y1="89.34" x2="395.30" y2="89.34"/>
<line x1="399.80" y1="72.22" x2="397.30" y2="72.22"/>
<line x1="399.80" y1="55.10" x2="395.30" y2="55.10"/>
<line x1="399.80" y1="37.98" x2="397.30" y2="37.98"/>
<line x1="399.80" y1="20.86" x2="395.30" y2="20.86"/>
</g>
<g stroke="#4d4d4d" stroke-width="1.0" fill="none">
<line x1="567.40" y1="20.80" x2="567.40" y2="122.10"/>
<line x1="567.40" y1="122.10" x2="698.20" y2="122.10"/>
<line x1="567.40" y1="122.10" x2="567.40" y2="124.60"/>
<line x1="584.57" y1="122.10" x2="584.57" y2="123.60"/>
<line x1="601.75" y1="122.10" x2="601.75" y2="124.60"/>
<line x1="618.92" y1="122.10" x2="618.92" y2="123.60"/>
<line x1="636.10" y1="122.10" x2="636.10" y2="124.60"/>
<line x1="653.27" y1="122.10" x2="653.27" y2="123.60"/>
<line x1="670.45" y1="122.10" x2="670.45" y2="124.60"/>
<line x1="687.62" y1="122.10" x2="687.62" y2="123.60"/>
<line x1="567.40" y1="117.10" x2="564.90" y2="117.10"/>
<line x1="567.40" y1="104.53" x2="565.90" y2="104.53"/>
<line x1="567.40" y1="91.96" x2="564.90" y2="91.96"/>
<line x1="567.40" y1="79.40" x2="565.90" y2="79.40"/>
<line x1="567.40" y1="66.83" x2="564.90" y2="66.83"/>
<line x1="567.40" y1="54.26" x2="565.90" y2="54.26"/>
<line x1="567.40" y1="41.69" x2="564.90" y2="41.69"/>
<line x1="567.40" y1="29.13" x2="565.90" y2="29.13"/>
</g>
<g font-family="Liberation Sans, sans-serif" fill="#1a1a1a" stroke="#1a1a1a" stroke-width="0.22" style="filter:grayscale(1)">
<text x="399.80" y="246.2" font-size="12.3" text-anchor="middle">350</text>
<text x="459.48" y="246.2" font-size="12.3" text-anchor="middle">400</text>
<text x="519.16" y="246.2" font-size="12.3" text-anchor="middle">450</text>
<text x="578.84" y="246.2" font-size="12.3" text-anchor="middle">500</text>
<text x="638.52" y="246.2" font-size="12.3" text-anchor="middle">550</text>
<text x="698.20" y="246.2" font-size="12.3" text-anchor="middle">600</text>
<text x="392.5" y="230.70" font-size="12.3" text-anchor="end">0.0</text>
<text x="392.5" y="196.46" font-size="12.3" text-anchor="end">0.2</text>
<text x="392.5" y="162.22" font-size="12.3" text-anchor="end">0.4</text>
<text x="392.5" y="127.98" font-size="12.3" text-anchor="end">0.6</text>
<text x="392.5" y="93.74" font-size="12.3" text-anchor="end">0.8</text>
<text x="392.5" y="59.50" font-size="12.3" text-anchor="end">1.0</text>
<text x="392.5" y="25.26" font-size="12.3" text-anchor="end">1.2</text>
<text x="404.1" y="15.4" font-size="15.2">B</text>
<path transform="translate(517.10,267.50) scale(17.400)" d="M0.035 -0.610Q0.075 -0.680 0.130 -0.660Q0.175 -0.636 0.212 -0.512L0.345 -0.099Q0.372 -0.014 0.440 -0.028M0.218 -0.395L0.006 -0.004" fill="none" stroke="#1a1a1a" stroke-width="0.088" stroke-linejoin="round"/>
<text x="525.6" y="267.5" font-size="17.2" stroke-width="0.35">/ nm</text>
<text transform="translate(370.9,114.3) rotate(-90)" font-size="16.8" text-anchor="middle">Abs</text>
<text transform="translate(567.40,131.8) scale(0.84,1)" font-size="9.3" text-anchor="middle">350</text>
<text transform="translate(601.75,131.8) scale(0.84,1)" font-size="9.3" text-anchor="middle">400</text>
<text transform="translate(636.10,131.8) scale(0.84,1)" font-size="9.3" text-anchor="middle">450</text>
<text transform="translate(670.45,131.8) scale(0.84,1)" font-size="9.3" text-anchor="middle">500</text>
<text transform="translate(564.4,120.10) scale(0.84,1)" font-size="9.3" text-anchor="end">0.00</text>
<text transform="translate(564.4,94.96) scale(0.84,1)" font-size="9.3" text-anchor="end">0.05</text>
<text transform="translate(564.4,69.83) scale(0.84,1)" font-size="9.3" text-anchor="end">0.10</text>
<text transform="translate(564.4,44.69) scale(0.84,1)" font-size="9.3" text-anchor="end">0.15</text>
<path transform="translate(618.70,146.70) scale(10.300)" d="M0.035 -0.610Q0.075 -0.680 0.130 -0.660Q0.175 -0.636 0.212 -0.512L0.345 -0.099Q0.372 -0.014 0.440 -0.028M0.218 -0.395L0.006 -0.004" fill="none" stroke="#1a1a1a" stroke-width="0.100" stroke-linejoin="round"/>
<text x="626.3" y="146.7" font-size="10.3" stroke-width="0.3">/ nm</text>
<text transform="translate(540.1,68.2) rotate(-90)" font-size="10.2" stroke-width="0.35" text-anchor="middle">Abs</text>
</g>
</svg>
</body></html>
